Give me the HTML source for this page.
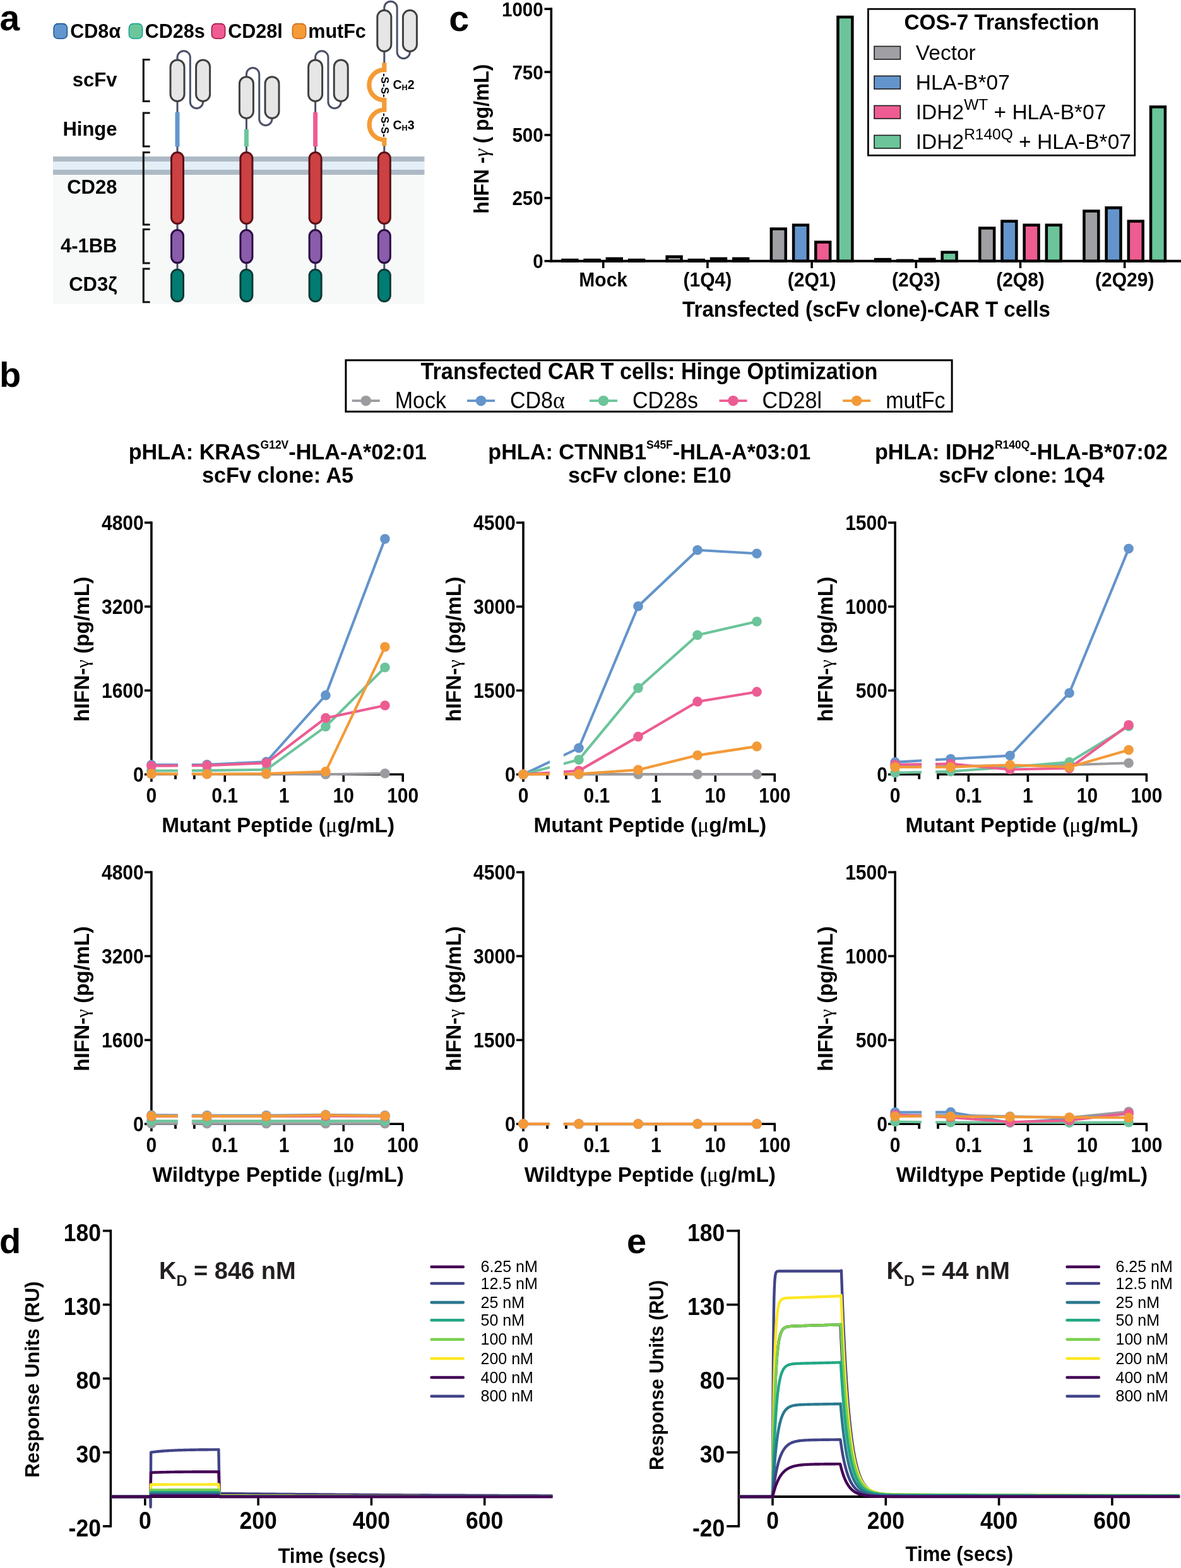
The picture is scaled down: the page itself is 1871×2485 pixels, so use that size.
<!DOCTYPE html>
<html><head><meta charset="utf-8"><title>Figure</title><style>html,body{margin:0;padding:0;background:#fff;}svg{display:block;}</style></head><body>
<svg width="1871" height="2485" viewBox="0 0 1871 2485">
<rect width="1871" height="2485" fill="#fff"/>
<g id="panel-a">
<rect x="84" y="248" width="588.4" height="234.3" fill="#F7F9F9"/>
<rect x="84" y="248" width="588.4" height="8" fill="#ADBAC5"/>
<rect x="84" y="256" width="588.4" height="13" fill="#E3EEF7"/>
<rect x="84" y="269" width="588.4" height="8" fill="#ADBAC5"/>
<text x="-0.5" y="48" font-family="'Liberation Sans', Arial, sans-serif" font-weight="bold" font-size="57">a</text>
<rect x="85.2" y="37.6" width="21.2" height="23.6" rx="6.5" fill="#6396CE" stroke="#1F5596" stroke-width="1.6"/>
<text x="111.3" y="59.6" font-family="'Liberation Sans', Arial, sans-serif" font-weight="bold" font-size="30.5">CD8<tspan font-size="31">α</tspan></text>
<rect x="204.4" y="37.6" width="21.2" height="23.6" rx="6.5" fill="#6CC59B" stroke="#17A394" stroke-width="1.6"/>
<text x="229.8" y="59.6" font-family="'Liberation Sans', Arial, sans-serif" font-weight="bold" font-size="30.5">CD28s</text>
<rect x="335.4" y="37.6" width="21.2" height="23.6" rx="6.5" fill="#EE5C93" stroke="#A0163F" stroke-width="1.6"/>
<text x="361.3" y="59.6" font-family="'Liberation Sans', Arial, sans-serif" font-weight="bold" font-size="30.5">CD28l</text>
<rect x="463.4" y="37.6" width="21.2" height="23.6" rx="6.5" fill="#F59C38" stroke="#CC6A1C" stroke-width="1.6"/>
<text x="488.3" y="59.6" font-family="'Liberation Sans', Arial, sans-serif" font-weight="bold" font-size="30.5">mutFc</text>
<text x="185.5" y="137.2" text-anchor="end" font-family="'Liberation Sans', Arial, sans-serif" font-weight="bold" font-size="31">scFv</text>
<text x="185.5" y="215.2" text-anchor="end" font-family="'Liberation Sans', Arial, sans-serif" font-weight="bold" font-size="31">Hinge</text>
<text x="185.5" y="307.2" text-anchor="end" font-family="'Liberation Sans', Arial, sans-serif" font-weight="bold" font-size="31">CD28</text>
<text x="185.5" y="400.2" text-anchor="end" font-family="'Liberation Sans', Arial, sans-serif" font-weight="bold" font-size="31">4-1BB</text>
<text x="185.5" y="461.2" text-anchor="end" font-family="'Liberation Sans', Arial, sans-serif" font-weight="bold" font-size="31">CD3ζ</text>
<path d="M237.6 94.5 H227.3 V160.5 H237.6" fill="none" stroke="#111" stroke-width="3.1"/>
<path d="M237.6 179 H227.3 V232 H237.6" fill="none" stroke="#111" stroke-width="3.1"/>
<path d="M237.6 241.5 H227.3 V356 H237.6" fill="none" stroke="#111" stroke-width="3.1"/>
<path d="M237.6 363.5 H227.3 V417 H237.6" fill="none" stroke="#111" stroke-width="3.1"/>
<path d="M237.6 426 H227.3 V478.8 H237.6" fill="none" stroke="#111" stroke-width="3.1"/>
<line x1="281.0" y1="160.0" x2="281.0" y2="242" stroke="#4B5068" stroke-width="3"/>
<path d="M281.0 96.4 V90.9 A10.15 10.15 0 0 1 301.3 90.9 V161.5 A10.15 10.15 0 0 0 321.6 161.5 V160.0" fill="none" stroke="#4B5068" stroke-width="3"/>
<rect x="270.0" y="94.9" width="22" height="65.6" rx="11" fill="#E6E6E6" stroke="#404040" stroke-width="3"/>
<rect x="310.6" y="94.9" width="22" height="65.6" rx="11" fill="#E6E6E6" stroke="#404040" stroke-width="3"/>
<rect x="277.5" y="178.0" width="7.0" height="54.400000000000006" fill="#6396CE"/>
<line x1="281.0" y1="354" x2="281.0" y2="430" stroke="#4B5068" stroke-width="3"/>
<rect x="271.5" y="241.5" width="19" height="113" rx="9.5" fill="#CC4143" stroke="#5A1016" stroke-width="3"/>
<rect x="271.5" y="364.6" width="19" height="52" rx="9.5" fill="#8A5DAB" stroke="#2C0C44" stroke-width="3"/>
<rect x="271.5" y="427.2" width="19" height="50.6" rx="9.5" fill="#017C72" stroke="#0D3A34" stroke-width="3"/>
<line x1="390.4" y1="187.0" x2="390.4" y2="242" stroke="#4B5068" stroke-width="3"/>
<path d="M390.4 123.2 V117.7 A10.15 10.15 0 0 1 410.7 117.7 V188.5 A10.15 10.15 0 0 0 431.0 188.5 V187.0" fill="none" stroke="#4B5068" stroke-width="3"/>
<rect x="379.4" y="121.7" width="22" height="65.8" rx="11" fill="#E6E6E6" stroke="#404040" stroke-width="3"/>
<rect x="420.0" y="121.7" width="22" height="65.8" rx="11" fill="#E6E6E6" stroke="#404040" stroke-width="3"/>
<rect x="386.9" y="205.0" width="7.0" height="27.400000000000006" fill="#6CC59B"/>
<line x1="390.4" y1="354" x2="390.4" y2="430" stroke="#4B5068" stroke-width="3"/>
<rect x="380.9" y="241.5" width="19" height="113" rx="9.5" fill="#CC4143" stroke="#5A1016" stroke-width="3"/>
<rect x="380.9" y="364.6" width="19" height="52" rx="9.5" fill="#8A5DAB" stroke="#2C0C44" stroke-width="3"/>
<rect x="380.9" y="427.2" width="19" height="50.6" rx="9.5" fill="#017C72" stroke="#0D3A34" stroke-width="3"/>
<line x1="499.6" y1="160.0" x2="499.6" y2="242" stroke="#4B5068" stroke-width="3"/>
<path d="M499.6 96.4 V90.9 A10.15 10.15 0 0 1 519.9 90.9 V161.5 A10.15 10.15 0 0 0 540.2 161.5 V160.0" fill="none" stroke="#4B5068" stroke-width="3"/>
<rect x="488.6" y="94.9" width="22" height="65.6" rx="11" fill="#E6E6E6" stroke="#404040" stroke-width="3"/>
<rect x="529.2" y="94.9" width="22" height="65.6" rx="11" fill="#E6E6E6" stroke="#404040" stroke-width="3"/>
<rect x="496.1" y="178.0" width="7.0" height="54.400000000000006" fill="#EE5C93"/>
<line x1="499.6" y1="354" x2="499.6" y2="430" stroke="#4B5068" stroke-width="3"/>
<rect x="490.1" y="241.5" width="19" height="113" rx="9.5" fill="#CC4143" stroke="#5A1016" stroke-width="3"/>
<rect x="490.1" y="364.6" width="19" height="52" rx="9.5" fill="#8A5DAB" stroke="#2C0C44" stroke-width="3"/>
<rect x="490.1" y="427.2" width="19" height="50.6" rx="9.5" fill="#017C72" stroke="#0D3A34" stroke-width="3"/>
<line x1="608.8" y1="81.0" x2="608.8" y2="101" stroke="#4B5068" stroke-width="3"/>
<line x1="608.8" y1="230" x2="608.8" y2="242" stroke="#4B5068" stroke-width="3"/>
<path d="M608.8 17.8 V12.3 A10.15 10.15 0 0 1 629.0999999999999 12.3 V82.5 A10.15 10.15 0 0 0 649.4 82.5 V81.0" fill="none" stroke="#4B5068" stroke-width="3"/>
<rect x="597.8" y="16.3" width="22" height="65.2" rx="11" fill="#E6E6E6" stroke="#404040" stroke-width="3"/>
<rect x="638.4" y="16.3" width="22" height="65.2" rx="11" fill="#E6E6E6" stroke="#404040" stroke-width="3"/>
<line x1="608.8" y1="354" x2="608.8" y2="430" stroke="#4B5068" stroke-width="3"/>
<rect x="599.3" y="241.5" width="19" height="113" rx="9.5" fill="#CC4143" stroke="#5A1016" stroke-width="3"/>
<rect x="599.3" y="364.6" width="19" height="52" rx="9.5" fill="#8A5DAB" stroke="#2C0C44" stroke-width="3"/>
<rect x="599.3" y="427.2" width="19" height="50.6" rx="9.5" fill="#017C72" stroke="#0D3A34" stroke-width="3"/>
<path d="M608.8 99.4 V110.7 A24 24 0 0 0 608.8 158.7 V174 A23.75 23.75 0 0 0 608.8 221.5 V231.3" fill="none" stroke="#F49B35" stroke-width="7.2"/>
<text transform="translate(610.0 135.2) rotate(90)" x="0" y="0" text-anchor="middle" dominant-baseline="central" font-family="'Liberation Sans', Arial, sans-serif" font-weight="bold" font-size="16.5">-S-S-</text>
<text transform="translate(610.0 198.2) rotate(90)" x="0" y="0" text-anchor="middle" dominant-baseline="central" font-family="'Liberation Sans', Arial, sans-serif" font-weight="bold" font-size="16.5">-S-S-</text>
<text x="622.5" y="141.0" font-family="'Liberation Sans', Arial, sans-serif" font-weight="bold" font-size="19.5">C<tspan font-size="12.5" dy="2">H</tspan><tspan dy="-2">2</tspan></text>
<text x="622.5" y="205.2" font-family="'Liberation Sans', Arial, sans-serif" font-weight="bold" font-size="19.5">C<tspan font-size="12.5" dy="2">H</tspan><tspan dy="-2">3</tspan></text>
</g>
<g id="panel-c">
<text x="711.2" y="49" font-family="'Liberation Sans', Arial, sans-serif" font-weight="bold" font-size="57.5">c</text>
<line x1="873.3" y1="12.2" x2="873.3" y2="415.7" stroke="#000" stroke-width="3.6"/>
<line x1="871.5" y1="413.7" x2="1871" y2="413.7" stroke="#000" stroke-width="4"/>
<line x1="862.5" y1="413.7" x2="873.3" y2="413.7" stroke="#000" stroke-width="3.6"/>
<text transform="translate(860.6 413.7) scale(1 1.09)" y="10.56" text-anchor="end" font-family="'Liberation Sans', Arial, sans-serif" font-weight="bold" font-size="29.5">0</text>
<line x1="862.5" y1="313.82" x2="873.3" y2="313.82" stroke="#000" stroke-width="3.6"/>
<text transform="translate(860.6 313.82) scale(1 1.09)" y="10.56" text-anchor="end" font-family="'Liberation Sans', Arial, sans-serif" font-weight="bold" font-size="29.5">250</text>
<line x1="862.5" y1="213.95" x2="873.3" y2="213.95" stroke="#000" stroke-width="3.6"/>
<text transform="translate(860.6 213.95) scale(1 1.09)" y="10.56" text-anchor="end" font-family="'Liberation Sans', Arial, sans-serif" font-weight="bold" font-size="29.5">500</text>
<line x1="862.5" y1="114.07" x2="873.3" y2="114.07" stroke="#000" stroke-width="3.6"/>
<text transform="translate(860.6 114.07) scale(1 1.09)" y="10.56" text-anchor="end" font-family="'Liberation Sans', Arial, sans-serif" font-weight="bold" font-size="29.5">750</text>
<line x1="862.5" y1="14.2" x2="873.3" y2="14.2" stroke="#000" stroke-width="3.6"/>
<text transform="translate(860.6 14.2) scale(1 1.09)" y="10.56" text-anchor="end" font-family="'Liberation Sans', Arial, sans-serif" font-weight="bold" font-size="29.5">1000</text>
<line x1="955.7" y1="413.7" x2="955.7" y2="425" stroke="#000" stroke-width="3.6"/>
<text transform="translate(955.7 454.2) scale(1 1.06)" text-anchor="middle" font-family="'Liberation Sans', Arial, sans-serif" font-weight="bold" font-size="30">Mock</text>
<rect x="891.45" y="412.1" width="22.9" height="1.6" fill="#A0A0A4" stroke="#000" stroke-width="4.5"/>
<rect x="926.65" y="412.1" width="22.9" height="1.6" fill="#6395CC" stroke="#000" stroke-width="4.5"/>
<rect x="961.85" y="409.9" width="22.9" height="3.8" fill="#EE5C91" stroke="#000" stroke-width="4.5"/>
<rect x="997.05" y="412.1" width="22.9" height="1.6" fill="#6CC59A" stroke="#000" stroke-width="4.5"/>
<line x1="1120.9" y1="413.7" x2="1120.9" y2="425" stroke="#000" stroke-width="3.6"/>
<text transform="translate(1120.9 454.2) scale(1 1.06)" text-anchor="middle" font-family="'Liberation Sans', Arial, sans-serif" font-weight="bold" font-size="30">(1Q4)</text>
<rect x="1056.65" y="406.8" width="22.9" height="6.9" fill="#A0A0A4" stroke="#000" stroke-width="4.5"/>
<rect x="1091.85" y="412.1" width="22.9" height="1.6" fill="#6395CC" stroke="#000" stroke-width="4.5"/>
<rect x="1127.05" y="409.9" width="22.9" height="3.8" fill="#EE5C91" stroke="#000" stroke-width="4.5"/>
<rect x="1162.25" y="409.9" width="22.9" height="3.8" fill="#6CC59A" stroke="#000" stroke-width="4.5"/>
<line x1="1286.1" y1="413.7" x2="1286.1" y2="425" stroke="#000" stroke-width="3.6"/>
<text transform="translate(1286.1 454.2) scale(1 1.06)" text-anchor="middle" font-family="'Liberation Sans', Arial, sans-serif" font-weight="bold" font-size="30">(2Q1)</text>
<rect x="1221.85" y="362.7" width="22.9" height="51" fill="#A0A0A4" stroke="#000" stroke-width="4.5"/>
<rect x="1257.05" y="356.7" width="22.9" height="57" fill="#6395CC" stroke="#000" stroke-width="4.5"/>
<rect x="1292.25" y="383.7" width="22.9" height="30" fill="#EE5C91" stroke="#000" stroke-width="4.5"/>
<rect x="1327.45" y="27" width="22.9" height="386.7" fill="#6CC59A" stroke="#000" stroke-width="4.5"/>
<line x1="1451.3" y1="413.7" x2="1451.3" y2="425" stroke="#000" stroke-width="3.6"/>
<text transform="translate(1451.3 454.2) scale(1 1.06)" text-anchor="middle" font-family="'Liberation Sans', Arial, sans-serif" font-weight="bold" font-size="30">(2Q3)</text>
<rect x="1387.05" y="411.1" width="22.9" height="2.6" fill="#A0A0A4" stroke="#000" stroke-width="4.5"/>
<rect x="1422.25" y="412.9" width="22.9" height="0.8" fill="#6395CC" stroke="#000" stroke-width="4.5"/>
<rect x="1457.45" y="410.9" width="22.9" height="2.8" fill="#EE5C91" stroke="#000" stroke-width="4.5"/>
<rect x="1492.65" y="399.8" width="22.9" height="13.9" fill="#6CC59A" stroke="#000" stroke-width="4.5"/>
<line x1="1616.5" y1="413.7" x2="1616.5" y2="425" stroke="#000" stroke-width="3.6"/>
<text transform="translate(1616.5 454.2) scale(1 1.06)" text-anchor="middle" font-family="'Liberation Sans', Arial, sans-serif" font-weight="bold" font-size="30">(2Q8)</text>
<rect x="1552.25" y="361.5" width="22.9" height="52.2" fill="#A0A0A4" stroke="#000" stroke-width="4.5"/>
<rect x="1587.45" y="350.6" width="22.9" height="63.1" fill="#6395CC" stroke="#000" stroke-width="4.5"/>
<rect x="1622.65" y="356.7" width="22.9" height="57" fill="#EE5C91" stroke="#000" stroke-width="4.5"/>
<rect x="1657.85" y="356.7" width="22.9" height="57" fill="#6CC59A" stroke="#000" stroke-width="4.5"/>
<line x1="1781.7" y1="413.7" x2="1781.7" y2="425" stroke="#000" stroke-width="3.6"/>
<text transform="translate(1781.7 454.2) scale(1 1.06)" text-anchor="middle" font-family="'Liberation Sans', Arial, sans-serif" font-weight="bold" font-size="30">(2Q29)</text>
<rect x="1717.45" y="334.5" width="22.9" height="79.2" fill="#A0A0A4" stroke="#000" stroke-width="4.5"/>
<rect x="1752.65" y="329.3" width="22.9" height="84.4" fill="#6395CC" stroke="#000" stroke-width="4.5"/>
<rect x="1787.85" y="350.6" width="22.9" height="63.1" fill="#EE5C91" stroke="#000" stroke-width="4.5"/>
<rect x="1823.05" y="169.4" width="22.9" height="244.3" fill="#6CC59A" stroke="#000" stroke-width="4.5"/>
<text transform="translate(1372.5 501.5) scale(1 1.04)" text-anchor="middle" font-family="'Liberation Sans', Arial, sans-serif" font-weight="bold" font-size="33.1">Transfected (scFv clone)-CAR T cells</text>
<text transform="translate(774.2 220.2) rotate(-90)" text-anchor="middle" font-family="'Liberation Sans', Arial, sans-serif" font-weight="bold" font-size="33" textLength="237" lengthAdjust="spacingAndGlyphs">hIFN -<tspan font-family="'Liberation Serif', 'Times New Roman', serif" font-weight="normal" font-style="italic">γ</tspan> ( pg/mL)</text>
<rect x="1375.4" y="14.3" width="422.4" height="232" fill="#fff" stroke="#000" stroke-width="2.7"/>
<text transform="translate(1587 47) scale(1 1.05)" text-anchor="middle" font-family="'Liberation Sans', Arial, sans-serif" font-weight="bold" font-size="33.3">COS-7 Transfection</text>
<rect x="1385" y="73.4" width="41.4" height="20.6" fill="#A0A0A4" stroke="#1a1a1a" stroke-width="1.6"/>
<text x="1450.8" y="95" font-family="'Liberation Sans', Arial, sans-serif" font-size="33.5">Vector</text>
<rect x="1385" y="120.4" width="41.4" height="20.6" fill="#6395CC" stroke="#1a1a1a" stroke-width="1.6"/>
<text x="1450.8" y="142" font-family="'Liberation Sans', Arial, sans-serif" font-size="33.5">HLA-B*07</text>
<rect x="1385" y="167.4" width="41.4" height="20.6" fill="#EE5C91" stroke="#1a1a1a" stroke-width="1.6"/>
<text x="1450.8" y="189" font-family="'Liberation Sans', Arial, sans-serif" font-size="33.5">IDH2<tspan font-size="24.5" dy="-15.5">WT</tspan><tspan dy="15.5"> + HLA-B*07</tspan></text>
<rect x="1385" y="214.4" width="41.4" height="20.6" fill="#6CC59A" stroke="#1a1a1a" stroke-width="1.6"/>
<text x="1450.8" y="236" font-family="'Liberation Sans', Arial, sans-serif" font-size="33.5">IDH2<tspan font-size="24.5" dy="-15.5">R140Q</tspan><tspan dy="15.5"> + HLA-B*07</tspan></text>
</g>
<g id="panel-b">
<text x="-1" y="612.8" font-family="'Liberation Sans', Arial, sans-serif" font-weight="bold" font-size="56">b</text>
<rect x="547.9" y="570.9" width="960.2" height="81.4" fill="#fff" stroke="#000" stroke-width="3"/>
<text transform="translate(1028.5 601.2) scale(1 1.06)" text-anchor="middle" font-family="'Liberation Sans', Arial, sans-serif" font-weight="bold" font-size="34.2">Transfected CAR T cells: Hinge Optimization</text>
<line x1="557.7" y1="635.2" x2="601.7" y2="635.2" stroke="#9C9CA0" stroke-width="3.7"/>
<circle cx="579.7" cy="635.2" r="8.3" fill="#9C9CA0"/>
<text transform="translate(625.7 646.8) scale(1 1.08)" font-family="'Liberation Sans', Arial, sans-serif" font-size="34">Mock</text>
<line x1="740.0" y1="635.2" x2="784.0" y2="635.2" stroke="#6394CB" stroke-width="3.7"/>
<circle cx="762.0" cy="635.2" r="8.3" fill="#6394CB"/>
<text transform="translate(808 646.8) scale(1 1.08)" font-family="'Liberation Sans', Arial, sans-serif" font-size="34">CD8<tspan font-family="'Liberation Serif', 'Times New Roman', serif" font-size="36">α</tspan></text>
<line x1="934.0" y1="635.2" x2="978.0" y2="635.2" stroke="#6CC49A" stroke-width="3.7"/>
<circle cx="956.0" cy="635.2" r="8.3" fill="#6CC49A"/>
<text transform="translate(1002 646.8) scale(1 1.08)" font-family="'Liberation Sans', Arial, sans-serif" font-size="34">CD28s</text>
<line x1="1139.5" y1="635.2" x2="1183.5" y2="635.2" stroke="#EC5C92" stroke-width="3.7"/>
<circle cx="1161.5" cy="635.2" r="8.3" fill="#EC5C92"/>
<text transform="translate(1207.5 646.8) scale(1 1.08)" font-family="'Liberation Sans', Arial, sans-serif" font-size="34">CD28l</text>
<line x1="1335.2" y1="635.2" x2="1379.2" y2="635.2" stroke="#F39A37" stroke-width="3.7"/>
<circle cx="1357.2" cy="635.2" r="8.3" fill="#F39A37"/>
<text transform="translate(1403.2 646.8) scale(1 1.08)" font-family="'Liberation Sans', Arial, sans-serif" font-size="34">mutFc</text>
<clipPath id="clip00"><rect x="219.9" y="808.3" width="62" height="460"/><rect x="303.8" y="808.3" width="400" height="460"/></clipPath>
<line x1="239.9" y1="826.5" x2="239.9" y2="1239" stroke="#000" stroke-width="3.6"/>
<line x1="228.9" y1="1227.3" x2="239.9" y2="1227.3" stroke="#000" stroke-width="3.6"/>
<text transform="translate(227.7 1227.6) scale(1 1.08)" y="10.74" text-anchor="end" font-family="'Liberation Sans', Arial, sans-serif" font-weight="bold" font-size="30">0</text>
<line x1="228.9" y1="1094.3" x2="239.9" y2="1094.3" stroke="#000" stroke-width="3.6"/>
<text transform="translate(227.7 1094.6) scale(1 1.08)" y="10.74" text-anchor="end" font-family="'Liberation Sans', Arial, sans-serif" font-weight="bold" font-size="30">1600</text>
<line x1="228.9" y1="961.3" x2="239.9" y2="961.3" stroke="#000" stroke-width="3.6"/>
<text transform="translate(227.7 961.6) scale(1 1.08)" y="10.74" text-anchor="end" font-family="'Liberation Sans', Arial, sans-serif" font-weight="bold" font-size="30">3200</text>
<line x1="228.9" y1="828.3" x2="239.9" y2="828.3" stroke="#000" stroke-width="3.6"/>
<text transform="translate(227.7 828.6) scale(1 1.08)" y="10.74" text-anchor="end" font-family="'Liberation Sans', Arial, sans-serif" font-weight="bold" font-size="30">4800</text>
<line x1="238.1" y1="1227.3" x2="279.9" y2="1227.3" stroke="#000" stroke-width="3.6"/>
<line x1="305.9" y1="1227.3" x2="639.8" y2="1227.3" stroke="#000" stroke-width="3.6"/>
<line x1="278" y1="1227.3" x2="278" y2="1234.9" stroke="#000" stroke-width="3.8"/>
<line x1="307.8" y1="1227.3" x2="307.8" y2="1234.9" stroke="#000" stroke-width="3.8"/>
<line x1="356.2" y1="1227.3" x2="356.2" y2="1239" stroke="#000" stroke-width="3.6"/>
<line x1="450.2" y1="1227.3" x2="450.2" y2="1239" stroke="#000" stroke-width="3.6"/>
<line x1="544.2" y1="1227.3" x2="544.2" y2="1239" stroke="#000" stroke-width="3.6"/>
<line x1="638.2" y1="1227.3" x2="638.2" y2="1239" stroke="#000" stroke-width="3.6"/>
<text transform="translate(239.9 1260) scale(1 1.1)" y="10.74" text-anchor="middle" font-family="'Liberation Sans', Arial, sans-serif" font-weight="bold" font-size="30">0</text>
<text transform="translate(356.2 1260) scale(1 1.1)" y="10.74" text-anchor="middle" font-family="'Liberation Sans', Arial, sans-serif" font-weight="bold" font-size="30">0.1</text>
<text transform="translate(450.2 1260) scale(1 1.1)" y="10.74" text-anchor="middle" font-family="'Liberation Sans', Arial, sans-serif" font-weight="bold" font-size="30">1</text>
<text transform="translate(544.2 1260) scale(1 1.1)" y="10.74" text-anchor="middle" font-family="'Liberation Sans', Arial, sans-serif" font-weight="bold" font-size="30">10</text>
<text transform="translate(638.2 1260) scale(1 1.1)" y="10.74" text-anchor="middle" font-family="'Liberation Sans', Arial, sans-serif" font-weight="bold" font-size="30">100</text>
<text transform="translate(141.1 1028.8) rotate(-90)" text-anchor="middle" font-family="'Liberation Sans', Arial, sans-serif" font-weight="bold" font-size="32.5" textLength="230" lengthAdjust="spacingAndGlyphs">hIFN-<tspan font-family="'Liberation Serif', 'Times New Roman', serif" font-weight="normal" font-size="30">γ</tspan>  (pg/mL)</text>
<text x="440.7" y="1319.3" text-anchor="middle" font-family="'Liberation Sans', Arial, sans-serif" font-weight="bold" font-size="33.4">Mutant Peptide (<tspan font-family="'Liberation Serif', 'Times New Roman', serif" font-weight="normal" font-size="34">μ</tspan>g/mL)</text>
<text x="439.7" y="727.6" text-anchor="middle" font-family="'Liberation Sans', Arial, sans-serif" font-weight="bold" font-size="34.2">pHLA: KRAS<tspan font-size="17.5" dy="-17">G12V</tspan><tspan dy="17">-HLA-A*02:01</tspan></text>
<text x="440.1" y="764.7" text-anchor="middle" font-family="'Liberation Sans', Arial, sans-serif" font-weight="bold" font-size="34.2">scFv clone: A5</text>
<polyline points="239.9,1226.8 327.9,1226.8 421.9,1226.8 515.9,1227.3 609.9,1225.8" fill="none" stroke="#9C9CA0" stroke-width="4.1" stroke-linejoin="round" clip-path="url(#clip00)"/>
<circle cx="239.9" cy="1226.8" r="7.8" fill="#9C9CA0"/>
<circle cx="327.9" cy="1226.8" r="7.8" fill="#9C9CA0"/>
<circle cx="421.9" cy="1226.8" r="7.8" fill="#9C9CA0"/>
<circle cx="515.9" cy="1227.3" r="7.8" fill="#9C9CA0"/>
<circle cx="609.9" cy="1225.8" r="7.8" fill="#9C9CA0"/>
<polyline points="239.9,1212.1 327.9,1211.8 421.9,1207.3 515.9,1101.9 609.9,854.1" fill="none" stroke="#6394CB" stroke-width="4.1" stroke-linejoin="round" clip-path="url(#clip00)"/>
<circle cx="239.9" cy="1212.1" r="7.8" fill="#6394CB"/>
<circle cx="327.9" cy="1211.8" r="7.8" fill="#6394CB"/>
<circle cx="421.9" cy="1207.3" r="7.8" fill="#6394CB"/>
<circle cx="515.9" cy="1101.9" r="7.8" fill="#6394CB"/>
<circle cx="609.9" cy="854.1" r="7.8" fill="#6394CB"/>
<polyline points="239.9,1221.6 327.9,1221.1 421.9,1219.8 515.9,1151.5 609.9,1057.8" fill="none" stroke="#6CC49A" stroke-width="4.1" stroke-linejoin="round" clip-path="url(#clip00)"/>
<circle cx="239.9" cy="1221.6" r="7.8" fill="#6CC49A"/>
<circle cx="327.9" cy="1221.1" r="7.8" fill="#6CC49A"/>
<circle cx="421.9" cy="1219.8" r="7.8" fill="#6CC49A"/>
<circle cx="515.9" cy="1151.5" r="7.8" fill="#6CC49A"/>
<circle cx="609.9" cy="1057.8" r="7.8" fill="#6CC49A"/>
<polyline points="239.9,1213.7 327.9,1213.1 421.9,1209.3 515.9,1137.9 609.9,1118" fill="none" stroke="#EC5C92" stroke-width="4.1" stroke-linejoin="round" clip-path="url(#clip00)"/>
<circle cx="239.9" cy="1213.7" r="7.8" fill="#EC5C92"/>
<circle cx="327.9" cy="1213.1" r="7.8" fill="#EC5C92"/>
<circle cx="421.9" cy="1209.3" r="7.8" fill="#EC5C92"/>
<circle cx="515.9" cy="1137.9" r="7.8" fill="#EC5C92"/>
<circle cx="609.9" cy="1118" r="7.8" fill="#EC5C92"/>
<polyline points="239.9,1226.3 327.9,1226.7 421.9,1226.1 515.9,1222.8 609.9,1025.3" fill="none" stroke="#F39A37" stroke-width="4.1" stroke-linejoin="round" clip-path="url(#clip00)"/>
<circle cx="239.9" cy="1226.3" r="7.8" fill="#F39A37"/>
<circle cx="327.9" cy="1226.7" r="7.8" fill="#F39A37"/>
<circle cx="421.9" cy="1226.1" r="7.8" fill="#F39A37"/>
<circle cx="515.9" cy="1222.8" r="7.8" fill="#F39A37"/>
<circle cx="609.9" cy="1025.3" r="7.8" fill="#F39A37"/>
<clipPath id="clip01"><rect x="219.9" y="1362.3" width="62" height="460"/><rect x="303.8" y="1362.3" width="400" height="460"/></clipPath>
<line x1="239.9" y1="1380.5" x2="239.9" y2="1793" stroke="#000" stroke-width="3.6"/>
<line x1="228.9" y1="1781.3" x2="239.9" y2="1781.3" stroke="#000" stroke-width="3.6"/>
<text transform="translate(227.7 1781.6) scale(1 1.08)" y="10.74" text-anchor="end" font-family="'Liberation Sans', Arial, sans-serif" font-weight="bold" font-size="30">0</text>
<line x1="228.9" y1="1648.3" x2="239.9" y2="1648.3" stroke="#000" stroke-width="3.6"/>
<text transform="translate(227.7 1648.6) scale(1 1.08)" y="10.74" text-anchor="end" font-family="'Liberation Sans', Arial, sans-serif" font-weight="bold" font-size="30">1600</text>
<line x1="228.9" y1="1515.3" x2="239.9" y2="1515.3" stroke="#000" stroke-width="3.6"/>
<text transform="translate(227.7 1515.6) scale(1 1.08)" y="10.74" text-anchor="end" font-family="'Liberation Sans', Arial, sans-serif" font-weight="bold" font-size="30">3200</text>
<line x1="228.9" y1="1382.3" x2="239.9" y2="1382.3" stroke="#000" stroke-width="3.6"/>
<text transform="translate(227.7 1382.6) scale(1 1.08)" y="10.74" text-anchor="end" font-family="'Liberation Sans', Arial, sans-serif" font-weight="bold" font-size="30">4800</text>
<line x1="238.1" y1="1781.3" x2="279.9" y2="1781.3" stroke="#000" stroke-width="3.6"/>
<line x1="305.9" y1="1781.3" x2="639.8" y2="1781.3" stroke="#000" stroke-width="3.6"/>
<line x1="278" y1="1781.3" x2="278" y2="1788.9" stroke="#000" stroke-width="3.8"/>
<line x1="307.8" y1="1781.3" x2="307.8" y2="1788.9" stroke="#000" stroke-width="3.8"/>
<line x1="356.2" y1="1781.3" x2="356.2" y2="1793" stroke="#000" stroke-width="3.6"/>
<line x1="450.2" y1="1781.3" x2="450.2" y2="1793" stroke="#000" stroke-width="3.6"/>
<line x1="544.2" y1="1781.3" x2="544.2" y2="1793" stroke="#000" stroke-width="3.6"/>
<line x1="638.2" y1="1781.3" x2="638.2" y2="1793" stroke="#000" stroke-width="3.6"/>
<text transform="translate(239.9 1814) scale(1 1.1)" y="10.74" text-anchor="middle" font-family="'Liberation Sans', Arial, sans-serif" font-weight="bold" font-size="30">0</text>
<text transform="translate(356.2 1814) scale(1 1.1)" y="10.74" text-anchor="middle" font-family="'Liberation Sans', Arial, sans-serif" font-weight="bold" font-size="30">0.1</text>
<text transform="translate(450.2 1814) scale(1 1.1)" y="10.74" text-anchor="middle" font-family="'Liberation Sans', Arial, sans-serif" font-weight="bold" font-size="30">1</text>
<text transform="translate(544.2 1814) scale(1 1.1)" y="10.74" text-anchor="middle" font-family="'Liberation Sans', Arial, sans-serif" font-weight="bold" font-size="30">10</text>
<text transform="translate(638.2 1814) scale(1 1.1)" y="10.74" text-anchor="middle" font-family="'Liberation Sans', Arial, sans-serif" font-weight="bold" font-size="30">100</text>
<text transform="translate(141.1 1582.8) rotate(-90)" text-anchor="middle" font-family="'Liberation Sans', Arial, sans-serif" font-weight="bold" font-size="32.5" textLength="230" lengthAdjust="spacingAndGlyphs">hIFN-<tspan font-family="'Liberation Serif', 'Times New Roman', serif" font-weight="normal" font-size="30">γ</tspan>  (pg/mL)</text>
<text x="440.7" y="1873.3" text-anchor="middle" font-family="'Liberation Sans', Arial, sans-serif" font-weight="bold" font-size="33.4">Wildtype Peptide (<tspan font-family="'Liberation Serif', 'Times New Roman', serif" font-weight="normal" font-size="34">μ</tspan>g/mL)</text>
<polyline points="239.9,1780.8 327.9,1780.8 421.9,1780.8 515.9,1780.8 609.9,1780.8" fill="none" stroke="#9C9CA0" stroke-width="4.1" stroke-linejoin="round" clip-path="url(#clip01)"/>
<circle cx="239.9" cy="1780.8" r="7.8" fill="#9C9CA0"/>
<circle cx="327.9" cy="1780.8" r="7.8" fill="#9C9CA0"/>
<circle cx="421.9" cy="1780.8" r="7.8" fill="#9C9CA0"/>
<circle cx="515.9" cy="1780.8" r="7.8" fill="#9C9CA0"/>
<circle cx="609.9" cy="1780.8" r="7.8" fill="#9C9CA0"/>
<polyline points="239.9,1767.3 327.9,1767.8 421.9,1767.8 515.9,1766.8 609.9,1767.8" fill="none" stroke="#6394CB" stroke-width="4.1" stroke-linejoin="round" clip-path="url(#clip01)"/>
<circle cx="239.9" cy="1767.3" r="7.8" fill="#6394CB"/>
<circle cx="327.9" cy="1767.8" r="7.8" fill="#6394CB"/>
<circle cx="421.9" cy="1767.8" r="7.8" fill="#6394CB"/>
<circle cx="515.9" cy="1766.8" r="7.8" fill="#6394CB"/>
<circle cx="609.9" cy="1767.8" r="7.8" fill="#6394CB"/>
<polyline points="239.9,1776.6 327.9,1776.6 421.9,1776.6 515.9,1776.6 609.9,1776.6" fill="none" stroke="#6CC49A" stroke-width="4.1" stroke-linejoin="round" clip-path="url(#clip01)"/>
<circle cx="239.9" cy="1776.6" r="7.8" fill="#6CC49A"/>
<circle cx="327.9" cy="1776.6" r="7.8" fill="#6CC49A"/>
<circle cx="421.9" cy="1776.6" r="7.8" fill="#6CC49A"/>
<circle cx="515.9" cy="1776.6" r="7.8" fill="#6CC49A"/>
<circle cx="609.9" cy="1776.6" r="7.8" fill="#6CC49A"/>
<polyline points="239.9,1769.3 327.9,1769.3 421.9,1769.3 515.9,1768.8 609.9,1769.3" fill="none" stroke="#EC5C92" stroke-width="4.1" stroke-linejoin="round" clip-path="url(#clip01)"/>
<circle cx="239.9" cy="1769.3" r="7.8" fill="#EC5C92"/>
<circle cx="327.9" cy="1769.3" r="7.8" fill="#EC5C92"/>
<circle cx="421.9" cy="1769.3" r="7.8" fill="#EC5C92"/>
<circle cx="515.9" cy="1768.8" r="7.8" fill="#EC5C92"/>
<circle cx="609.9" cy="1769.3" r="7.8" fill="#EC5C92"/>
<polyline points="239.9,1768.6 327.9,1768.9 421.9,1768.9 515.9,1767.3 609.9,1768.6" fill="none" stroke="#F39A37" stroke-width="4.1" stroke-linejoin="round" clip-path="url(#clip01)"/>
<circle cx="239.9" cy="1768.6" r="7.8" fill="#F39A37"/>
<circle cx="327.9" cy="1768.9" r="7.8" fill="#F39A37"/>
<circle cx="421.9" cy="1768.9" r="7.8" fill="#F39A37"/>
<circle cx="515.9" cy="1767.3" r="7.8" fill="#F39A37"/>
<circle cx="609.9" cy="1768.6" r="7.8" fill="#F39A37"/>
<clipPath id="clip10"><rect x="809.0" y="808.3" width="62" height="460"/><rect x="892.9" y="808.3" width="400" height="460"/></clipPath>
<line x1="829" y1="826.5" x2="829" y2="1239" stroke="#000" stroke-width="3.6"/>
<line x1="818" y1="1227.3" x2="829" y2="1227.3" stroke="#000" stroke-width="3.6"/>
<text transform="translate(816.8 1227.6) scale(1 1.08)" y="10.74" text-anchor="end" font-family="'Liberation Sans', Arial, sans-serif" font-weight="bold" font-size="30">0</text>
<line x1="818" y1="1094.3" x2="829" y2="1094.3" stroke="#000" stroke-width="3.6"/>
<text transform="translate(816.8 1094.6) scale(1 1.08)" y="10.74" text-anchor="end" font-family="'Liberation Sans', Arial, sans-serif" font-weight="bold" font-size="30">1500</text>
<line x1="818" y1="961.3" x2="829" y2="961.3" stroke="#000" stroke-width="3.6"/>
<text transform="translate(816.8 961.6) scale(1 1.08)" y="10.74" text-anchor="end" font-family="'Liberation Sans', Arial, sans-serif" font-weight="bold" font-size="30">3000</text>
<line x1="818" y1="828.3" x2="829" y2="828.3" stroke="#000" stroke-width="3.6"/>
<text transform="translate(816.8 828.6) scale(1 1.08)" y="10.74" text-anchor="end" font-family="'Liberation Sans', Arial, sans-serif" font-weight="bold" font-size="30">4500</text>
<line x1="827.2" y1="1227.3" x2="869" y2="1227.3" stroke="#000" stroke-width="3.6"/>
<line x1="895" y1="1227.3" x2="1228.9" y2="1227.3" stroke="#000" stroke-width="3.6"/>
<line x1="867.1" y1="1227.3" x2="867.1" y2="1234.9" stroke="#000" stroke-width="3.8"/>
<line x1="896.9" y1="1227.3" x2="896.9" y2="1234.9" stroke="#000" stroke-width="3.8"/>
<line x1="945.3" y1="1227.3" x2="945.3" y2="1239" stroke="#000" stroke-width="3.6"/>
<line x1="1039.3" y1="1227.3" x2="1039.3" y2="1239" stroke="#000" stroke-width="3.6"/>
<line x1="1133.3" y1="1227.3" x2="1133.3" y2="1239" stroke="#000" stroke-width="3.6"/>
<line x1="1227.3" y1="1227.3" x2="1227.3" y2="1239" stroke="#000" stroke-width="3.6"/>
<text transform="translate(829 1260) scale(1 1.1)" y="10.74" text-anchor="middle" font-family="'Liberation Sans', Arial, sans-serif" font-weight="bold" font-size="30">0</text>
<text transform="translate(945.3 1260) scale(1 1.1)" y="10.74" text-anchor="middle" font-family="'Liberation Sans', Arial, sans-serif" font-weight="bold" font-size="30">0.1</text>
<text transform="translate(1039.3 1260) scale(1 1.1)" y="10.74" text-anchor="middle" font-family="'Liberation Sans', Arial, sans-serif" font-weight="bold" font-size="30">1</text>
<text transform="translate(1133.3 1260) scale(1 1.1)" y="10.74" text-anchor="middle" font-family="'Liberation Sans', Arial, sans-serif" font-weight="bold" font-size="30">10</text>
<text transform="translate(1227.3 1260) scale(1 1.1)" y="10.74" text-anchor="middle" font-family="'Liberation Sans', Arial, sans-serif" font-weight="bold" font-size="30">100</text>
<text transform="translate(730.2 1028.8) rotate(-90)" text-anchor="middle" font-family="'Liberation Sans', Arial, sans-serif" font-weight="bold" font-size="32.5" textLength="230" lengthAdjust="spacingAndGlyphs">hIFN-<tspan font-family="'Liberation Serif', 'Times New Roman', serif" font-weight="normal" font-size="30">γ</tspan>  (pg/mL)</text>
<text x="1029.8" y="1319.3" text-anchor="middle" font-family="'Liberation Sans', Arial, sans-serif" font-weight="bold" font-size="33.4">Mutant Peptide (<tspan font-family="'Liberation Serif', 'Times New Roman', serif" font-weight="normal" font-size="34">μ</tspan>g/mL)</text>
<text x="1028.8" y="727.6" text-anchor="middle" font-family="'Liberation Sans', Arial, sans-serif" font-weight="bold" font-size="34.2">pHLA: CTNNB1<tspan font-size="17.5" dy="-17">S45F</tspan><tspan dy="17">-HLA-A*03:01</tspan></text>
<text x="1029.2" y="764.7" text-anchor="middle" font-family="'Liberation Sans', Arial, sans-serif" font-weight="bold" font-size="34.2">scFv clone: E10</text>
<polyline points="829,1227.3 917,1227.3 1011,1227.3 1105,1227.3 1199,1227.3" fill="none" stroke="#9C9CA0" stroke-width="4.1" stroke-linejoin="round" clip-path="url(#clip10)"/>
<circle cx="829" cy="1227.3" r="7.8" fill="#9C9CA0"/>
<circle cx="917" cy="1227.3" r="7.8" fill="#9C9CA0"/>
<circle cx="1011" cy="1227.3" r="7.8" fill="#9C9CA0"/>
<circle cx="1105" cy="1227.3" r="7.8" fill="#9C9CA0"/>
<circle cx="1199" cy="1227.3" r="7.8" fill="#9C9CA0"/>
<polyline points="829,1227.3 917,1185.5 1011,960.8 1105,871.7 1199,877.3" fill="none" stroke="#6394CB" stroke-width="4.1" stroke-linejoin="round" clip-path="url(#clip10)"/>
<circle cx="829" cy="1227.3" r="7.8" fill="#6394CB"/>
<circle cx="917" cy="1185.5" r="7.8" fill="#6394CB"/>
<circle cx="1011" cy="960.8" r="7.8" fill="#6394CB"/>
<circle cx="1105" cy="871.7" r="7.8" fill="#6394CB"/>
<circle cx="1199" cy="877.3" r="7.8" fill="#6394CB"/>
<polyline points="829,1227.3 917,1204.1 1011,1090.4 1105,1006.5 1199,985" fill="none" stroke="#6CC49A" stroke-width="4.1" stroke-linejoin="round" clip-path="url(#clip10)"/>
<circle cx="829" cy="1227.3" r="7.8" fill="#6CC49A"/>
<circle cx="917" cy="1204.1" r="7.8" fill="#6CC49A"/>
<circle cx="1011" cy="1090.4" r="7.8" fill="#6CC49A"/>
<circle cx="1105" cy="1006.5" r="7.8" fill="#6CC49A"/>
<circle cx="1199" cy="985" r="7.8" fill="#6CC49A"/>
<polyline points="829,1227.3 917,1221.6 1011,1167.4 1105,1111.9 1199,1096.4" fill="none" stroke="#EC5C92" stroke-width="4.1" stroke-linejoin="round" clip-path="url(#clip10)"/>
<circle cx="829" cy="1227.3" r="7.8" fill="#EC5C92"/>
<circle cx="917" cy="1221.6" r="7.8" fill="#EC5C92"/>
<circle cx="1011" cy="1167.4" r="7.8" fill="#EC5C92"/>
<circle cx="1105" cy="1111.9" r="7.8" fill="#EC5C92"/>
<circle cx="1199" cy="1096.4" r="7.8" fill="#EC5C92"/>
<polyline points="829,1227.3 917,1226.5 1011,1220.1 1105,1197.1 1199,1182.9" fill="none" stroke="#F39A37" stroke-width="4.1" stroke-linejoin="round" clip-path="url(#clip10)"/>
<circle cx="829" cy="1227.3" r="7.8" fill="#F39A37"/>
<circle cx="917" cy="1226.5" r="7.8" fill="#F39A37"/>
<circle cx="1011" cy="1220.1" r="7.8" fill="#F39A37"/>
<circle cx="1105" cy="1197.1" r="7.8" fill="#F39A37"/>
<circle cx="1199" cy="1182.9" r="7.8" fill="#F39A37"/>
<clipPath id="clip11"><rect x="809.0" y="1362.3" width="62" height="460"/><rect x="892.9" y="1362.3" width="400" height="460"/></clipPath>
<line x1="829" y1="1380.5" x2="829" y2="1793" stroke="#000" stroke-width="3.6"/>
<line x1="818" y1="1781.3" x2="829" y2="1781.3" stroke="#000" stroke-width="3.6"/>
<text transform="translate(816.8 1781.6) scale(1 1.08)" y="10.74" text-anchor="end" font-family="'Liberation Sans', Arial, sans-serif" font-weight="bold" font-size="30">0</text>
<line x1="818" y1="1648.3" x2="829" y2="1648.3" stroke="#000" stroke-width="3.6"/>
<text transform="translate(816.8 1648.6) scale(1 1.08)" y="10.74" text-anchor="end" font-family="'Liberation Sans', Arial, sans-serif" font-weight="bold" font-size="30">1500</text>
<line x1="818" y1="1515.3" x2="829" y2="1515.3" stroke="#000" stroke-width="3.6"/>
<text transform="translate(816.8 1515.6) scale(1 1.08)" y="10.74" text-anchor="end" font-family="'Liberation Sans', Arial, sans-serif" font-weight="bold" font-size="30">3000</text>
<line x1="818" y1="1382.3" x2="829" y2="1382.3" stroke="#000" stroke-width="3.6"/>
<text transform="translate(816.8 1382.6) scale(1 1.08)" y="10.74" text-anchor="end" font-family="'Liberation Sans', Arial, sans-serif" font-weight="bold" font-size="30">4500</text>
<line x1="827.2" y1="1781.3" x2="869" y2="1781.3" stroke="#000" stroke-width="3.6"/>
<line x1="895" y1="1781.3" x2="1228.9" y2="1781.3" stroke="#000" stroke-width="3.6"/>
<line x1="867.1" y1="1781.3" x2="867.1" y2="1788.9" stroke="#000" stroke-width="3.8"/>
<line x1="896.9" y1="1781.3" x2="896.9" y2="1788.9" stroke="#000" stroke-width="3.8"/>
<line x1="945.3" y1="1781.3" x2="945.3" y2="1793" stroke="#000" stroke-width="3.6"/>
<line x1="1039.3" y1="1781.3" x2="1039.3" y2="1793" stroke="#000" stroke-width="3.6"/>
<line x1="1133.3" y1="1781.3" x2="1133.3" y2="1793" stroke="#000" stroke-width="3.6"/>
<line x1="1227.3" y1="1781.3" x2="1227.3" y2="1793" stroke="#000" stroke-width="3.6"/>
<text transform="translate(829 1814) scale(1 1.1)" y="10.74" text-anchor="middle" font-family="'Liberation Sans', Arial, sans-serif" font-weight="bold" font-size="30">0</text>
<text transform="translate(945.3 1814) scale(1 1.1)" y="10.74" text-anchor="middle" font-family="'Liberation Sans', Arial, sans-serif" font-weight="bold" font-size="30">0.1</text>
<text transform="translate(1039.3 1814) scale(1 1.1)" y="10.74" text-anchor="middle" font-family="'Liberation Sans', Arial, sans-serif" font-weight="bold" font-size="30">1</text>
<text transform="translate(1133.3 1814) scale(1 1.1)" y="10.74" text-anchor="middle" font-family="'Liberation Sans', Arial, sans-serif" font-weight="bold" font-size="30">10</text>
<text transform="translate(1227.3 1814) scale(1 1.1)" y="10.74" text-anchor="middle" font-family="'Liberation Sans', Arial, sans-serif" font-weight="bold" font-size="30">100</text>
<text transform="translate(730.2 1582.8) rotate(-90)" text-anchor="middle" font-family="'Liberation Sans', Arial, sans-serif" font-weight="bold" font-size="32.5" textLength="230" lengthAdjust="spacingAndGlyphs">hIFN-<tspan font-family="'Liberation Serif', 'Times New Roman', serif" font-weight="normal" font-size="30">γ</tspan>  (pg/mL)</text>
<text x="1029.8" y="1873.3" text-anchor="middle" font-family="'Liberation Sans', Arial, sans-serif" font-weight="bold" font-size="33.4">Wildtype Peptide (<tspan font-family="'Liberation Serif', 'Times New Roman', serif" font-weight="normal" font-size="34">μ</tspan>g/mL)</text>
<polyline points="829,1781.3 917,1781.3 1011,1781.3 1105,1781.3 1199,1781.3" fill="none" stroke="#9C9CA0" stroke-width="4.1" stroke-linejoin="round" clip-path="url(#clip11)"/>
<circle cx="829" cy="1781.3" r="7.8" fill="#9C9CA0"/>
<circle cx="917" cy="1781.3" r="7.8" fill="#9C9CA0"/>
<circle cx="1011" cy="1781.3" r="7.8" fill="#9C9CA0"/>
<circle cx="1105" cy="1781.3" r="7.8" fill="#9C9CA0"/>
<circle cx="1199" cy="1781.3" r="7.8" fill="#9C9CA0"/>
<polyline points="829,1781.3 917,1781.3 1011,1781.3 1105,1781.3 1199,1781.3" fill="none" stroke="#6394CB" stroke-width="4.1" stroke-linejoin="round" clip-path="url(#clip11)"/>
<circle cx="829" cy="1781.3" r="7.8" fill="#6394CB"/>
<circle cx="917" cy="1781.3" r="7.8" fill="#6394CB"/>
<circle cx="1011" cy="1781.3" r="7.8" fill="#6394CB"/>
<circle cx="1105" cy="1781.3" r="7.8" fill="#6394CB"/>
<circle cx="1199" cy="1781.3" r="7.8" fill="#6394CB"/>
<polyline points="829,1781.3 917,1781.3 1011,1781.3 1105,1781.3 1199,1781.3" fill="none" stroke="#6CC49A" stroke-width="4.1" stroke-linejoin="round" clip-path="url(#clip11)"/>
<circle cx="829" cy="1781.3" r="7.8" fill="#6CC49A"/>
<circle cx="917" cy="1781.3" r="7.8" fill="#6CC49A"/>
<circle cx="1011" cy="1781.3" r="7.8" fill="#6CC49A"/>
<circle cx="1105" cy="1781.3" r="7.8" fill="#6CC49A"/>
<circle cx="1199" cy="1781.3" r="7.8" fill="#6CC49A"/>
<polyline points="829,1781.3 917,1781.3 1011,1781.3 1105,1781.3 1199,1781.3" fill="none" stroke="#EC5C92" stroke-width="4.1" stroke-linejoin="round" clip-path="url(#clip11)"/>
<circle cx="829" cy="1781.3" r="7.8" fill="#EC5C92"/>
<circle cx="917" cy="1781.3" r="7.8" fill="#EC5C92"/>
<circle cx="1011" cy="1781.3" r="7.8" fill="#EC5C92"/>
<circle cx="1105" cy="1781.3" r="7.8" fill="#EC5C92"/>
<circle cx="1199" cy="1781.3" r="7.8" fill="#EC5C92"/>
<polyline points="829,1781.3 917,1781.3 1011,1781.3 1105,1781.3 1199,1781.3" fill="none" stroke="#F39A37" stroke-width="4.1" stroke-linejoin="round" clip-path="url(#clip11)"/>
<circle cx="829" cy="1781.3" r="7.8" fill="#F39A37"/>
<circle cx="917" cy="1781.3" r="7.8" fill="#F39A37"/>
<circle cx="1011" cy="1781.3" r="7.8" fill="#F39A37"/>
<circle cx="1105" cy="1781.3" r="7.8" fill="#F39A37"/>
<circle cx="1199" cy="1781.3" r="7.8" fill="#F39A37"/>
<clipPath id="clip20"><rect x="1398.1000000000001" y="808.3" width="62" height="460"/><rect x="1482.0000000000002" y="808.3" width="400" height="460"/></clipPath>
<line x1="1418.1" y1="826.5" x2="1418.1" y2="1239" stroke="#000" stroke-width="3.6"/>
<line x1="1407.1" y1="1227.3" x2="1418.1" y2="1227.3" stroke="#000" stroke-width="3.6"/>
<text transform="translate(1405.9 1227.6) scale(1 1.08)" y="10.74" text-anchor="end" font-family="'Liberation Sans', Arial, sans-serif" font-weight="bold" font-size="30">0</text>
<line x1="1407.1" y1="1094.3" x2="1418.1" y2="1094.3" stroke="#000" stroke-width="3.6"/>
<text transform="translate(1405.9 1094.6) scale(1 1.08)" y="10.74" text-anchor="end" font-family="'Liberation Sans', Arial, sans-serif" font-weight="bold" font-size="30">500</text>
<line x1="1407.1" y1="961.3" x2="1418.1" y2="961.3" stroke="#000" stroke-width="3.6"/>
<text transform="translate(1405.9 961.6) scale(1 1.08)" y="10.74" text-anchor="end" font-family="'Liberation Sans', Arial, sans-serif" font-weight="bold" font-size="30">1000</text>
<line x1="1407.1" y1="828.3" x2="1418.1" y2="828.3" stroke="#000" stroke-width="3.6"/>
<text transform="translate(1405.9 828.6) scale(1 1.08)" y="10.74" text-anchor="end" font-family="'Liberation Sans', Arial, sans-serif" font-weight="bold" font-size="30">1500</text>
<line x1="1416.3" y1="1227.3" x2="1458.1" y2="1227.3" stroke="#000" stroke-width="3.6"/>
<line x1="1484.1" y1="1227.3" x2="1818" y2="1227.3" stroke="#000" stroke-width="3.6"/>
<line x1="1456.2" y1="1227.3" x2="1456.2" y2="1234.9" stroke="#000" stroke-width="3.8"/>
<line x1="1486" y1="1227.3" x2="1486" y2="1234.9" stroke="#000" stroke-width="3.8"/>
<line x1="1534.4" y1="1227.3" x2="1534.4" y2="1239" stroke="#000" stroke-width="3.6"/>
<line x1="1628.4" y1="1227.3" x2="1628.4" y2="1239" stroke="#000" stroke-width="3.6"/>
<line x1="1722.4" y1="1227.3" x2="1722.4" y2="1239" stroke="#000" stroke-width="3.6"/>
<line x1="1816.4" y1="1227.3" x2="1816.4" y2="1239" stroke="#000" stroke-width="3.6"/>
<text transform="translate(1418.1 1260) scale(1 1.1)" y="10.74" text-anchor="middle" font-family="'Liberation Sans', Arial, sans-serif" font-weight="bold" font-size="30">0</text>
<text transform="translate(1534.4 1260) scale(1 1.1)" y="10.74" text-anchor="middle" font-family="'Liberation Sans', Arial, sans-serif" font-weight="bold" font-size="30">0.1</text>
<text transform="translate(1628.4 1260) scale(1 1.1)" y="10.74" text-anchor="middle" font-family="'Liberation Sans', Arial, sans-serif" font-weight="bold" font-size="30">1</text>
<text transform="translate(1722.4 1260) scale(1 1.1)" y="10.74" text-anchor="middle" font-family="'Liberation Sans', Arial, sans-serif" font-weight="bold" font-size="30">10</text>
<text transform="translate(1816.4 1260) scale(1 1.1)" y="10.74" text-anchor="middle" font-family="'Liberation Sans', Arial, sans-serif" font-weight="bold" font-size="30">100</text>
<text transform="translate(1319.3 1028.8) rotate(-90)" text-anchor="middle" font-family="'Liberation Sans', Arial, sans-serif" font-weight="bold" font-size="32.5" textLength="230" lengthAdjust="spacingAndGlyphs">hIFN-<tspan font-family="'Liberation Serif', 'Times New Roman', serif" font-weight="normal" font-size="30">γ</tspan>  (pg/mL)</text>
<text x="1618.9" y="1319.3" text-anchor="middle" font-family="'Liberation Sans', Arial, sans-serif" font-weight="bold" font-size="33.4">Mutant Peptide (<tspan font-family="'Liberation Serif', 'Times New Roman', serif" font-weight="normal" font-size="34">μ</tspan>g/mL)</text>
<text x="1617.9" y="727.6" text-anchor="middle" font-family="'Liberation Sans', Arial, sans-serif" font-weight="bold" font-size="34.2">pHLA: IDH2<tspan font-size="17.5" dy="-17">R140Q</tspan><tspan dy="17">-HLA-B*07:02</tspan></text>
<text x="1618.3" y="764.7" text-anchor="middle" font-family="'Liberation Sans', Arial, sans-serif" font-weight="bold" font-size="34.2">scFv clone: 1Q4</text>
<polyline points="1418.1,1214.3 1506.1,1214.3 1600.1,1213.3 1694.1,1212.3 1788.1,1209.3" fill="none" stroke="#9C9CA0" stroke-width="4.1" stroke-linejoin="round" clip-path="url(#clip20)"/>
<circle cx="1418.1" cy="1214.3" r="7.8" fill="#9C9CA0"/>
<circle cx="1506.1" cy="1214.3" r="7.8" fill="#9C9CA0"/>
<circle cx="1600.1" cy="1213.3" r="7.8" fill="#9C9CA0"/>
<circle cx="1694.1" cy="1212.3" r="7.8" fill="#9C9CA0"/>
<circle cx="1788.1" cy="1209.3" r="7.8" fill="#9C9CA0"/>
<polyline points="1418.1,1207.9 1506.1,1202.8 1600.1,1197.6 1694.1,1098.2 1788.1,869.6" fill="none" stroke="#6394CB" stroke-width="4.1" stroke-linejoin="round" clip-path="url(#clip20)"/>
<circle cx="1418.1" cy="1207.9" r="7.8" fill="#6394CB"/>
<circle cx="1506.1" cy="1202.8" r="7.8" fill="#6394CB"/>
<circle cx="1600.1" cy="1197.6" r="7.8" fill="#6394CB"/>
<circle cx="1694.1" cy="1098.2" r="7.8" fill="#6394CB"/>
<circle cx="1788.1" cy="869.6" r="7.8" fill="#6394CB"/>
<polyline points="1418.1,1224.7 1506.1,1222.6 1600.1,1215.7 1694.1,1207.9 1788.1,1150.9" fill="none" stroke="#6CC49A" stroke-width="4.1" stroke-linejoin="round" clip-path="url(#clip20)"/>
<circle cx="1418.1" cy="1224.7" r="7.8" fill="#6CC49A"/>
<circle cx="1506.1" cy="1222.6" r="7.8" fill="#6CC49A"/>
<circle cx="1600.1" cy="1215.7" r="7.8" fill="#6CC49A"/>
<circle cx="1694.1" cy="1207.9" r="7.8" fill="#6CC49A"/>
<circle cx="1788.1" cy="1150.9" r="7.8" fill="#6CC49A"/>
<polyline points="1418.1,1211.8 1506.1,1210.5 1600.1,1219.5 1694.1,1217.5 1788.1,1149" fill="none" stroke="#EC5C92" stroke-width="4.1" stroke-linejoin="round" clip-path="url(#clip20)"/>
<circle cx="1418.1" cy="1211.8" r="7.8" fill="#EC5C92"/>
<circle cx="1506.1" cy="1210.5" r="7.8" fill="#EC5C92"/>
<circle cx="1600.1" cy="1219.5" r="7.8" fill="#EC5C92"/>
<circle cx="1694.1" cy="1217.5" r="7.8" fill="#EC5C92"/>
<circle cx="1788.1" cy="1149" r="7.8" fill="#EC5C92"/>
<polyline points="1418.1,1215.7 1506.1,1215.7 1600.1,1212.3 1694.1,1215.7 1788.1,1188.6" fill="none" stroke="#F39A37" stroke-width="4.1" stroke-linejoin="round" clip-path="url(#clip20)"/>
<circle cx="1418.1" cy="1215.7" r="7.8" fill="#F39A37"/>
<circle cx="1506.1" cy="1215.7" r="7.8" fill="#F39A37"/>
<circle cx="1600.1" cy="1212.3" r="7.8" fill="#F39A37"/>
<circle cx="1694.1" cy="1215.7" r="7.8" fill="#F39A37"/>
<circle cx="1788.1" cy="1188.6" r="7.8" fill="#F39A37"/>
<clipPath id="clip21"><rect x="1398.1000000000001" y="1362.3" width="62" height="460"/><rect x="1482.0000000000002" y="1362.3" width="400" height="460"/></clipPath>
<line x1="1418.1" y1="1380.5" x2="1418.1" y2="1793" stroke="#000" stroke-width="3.6"/>
<line x1="1407.1" y1="1781.3" x2="1418.1" y2="1781.3" stroke="#000" stroke-width="3.6"/>
<text transform="translate(1405.9 1781.6) scale(1 1.08)" y="10.74" text-anchor="end" font-family="'Liberation Sans', Arial, sans-serif" font-weight="bold" font-size="30">0</text>
<line x1="1407.1" y1="1648.3" x2="1418.1" y2="1648.3" stroke="#000" stroke-width="3.6"/>
<text transform="translate(1405.9 1648.6) scale(1 1.08)" y="10.74" text-anchor="end" font-family="'Liberation Sans', Arial, sans-serif" font-weight="bold" font-size="30">500</text>
<line x1="1407.1" y1="1515.3" x2="1418.1" y2="1515.3" stroke="#000" stroke-width="3.6"/>
<text transform="translate(1405.9 1515.6) scale(1 1.08)" y="10.74" text-anchor="end" font-family="'Liberation Sans', Arial, sans-serif" font-weight="bold" font-size="30">1000</text>
<line x1="1407.1" y1="1382.3" x2="1418.1" y2="1382.3" stroke="#000" stroke-width="3.6"/>
<text transform="translate(1405.9 1382.6) scale(1 1.08)" y="10.74" text-anchor="end" font-family="'Liberation Sans', Arial, sans-serif" font-weight="bold" font-size="30">1500</text>
<line x1="1416.3" y1="1781.3" x2="1458.1" y2="1781.3" stroke="#000" stroke-width="3.6"/>
<line x1="1484.1" y1="1781.3" x2="1818" y2="1781.3" stroke="#000" stroke-width="3.6"/>
<line x1="1456.2" y1="1781.3" x2="1456.2" y2="1788.9" stroke="#000" stroke-width="3.8"/>
<line x1="1486" y1="1781.3" x2="1486" y2="1788.9" stroke="#000" stroke-width="3.8"/>
<line x1="1534.4" y1="1781.3" x2="1534.4" y2="1793" stroke="#000" stroke-width="3.6"/>
<line x1="1628.4" y1="1781.3" x2="1628.4" y2="1793" stroke="#000" stroke-width="3.6"/>
<line x1="1722.4" y1="1781.3" x2="1722.4" y2="1793" stroke="#000" stroke-width="3.6"/>
<line x1="1816.4" y1="1781.3" x2="1816.4" y2="1793" stroke="#000" stroke-width="3.6"/>
<text transform="translate(1418.1 1814) scale(1 1.1)" y="10.74" text-anchor="middle" font-family="'Liberation Sans', Arial, sans-serif" font-weight="bold" font-size="30">0</text>
<text transform="translate(1534.4 1814) scale(1 1.1)" y="10.74" text-anchor="middle" font-family="'Liberation Sans', Arial, sans-serif" font-weight="bold" font-size="30">0.1</text>
<text transform="translate(1628.4 1814) scale(1 1.1)" y="10.74" text-anchor="middle" font-family="'Liberation Sans', Arial, sans-serif" font-weight="bold" font-size="30">1</text>
<text transform="translate(1722.4 1814) scale(1 1.1)" y="10.74" text-anchor="middle" font-family="'Liberation Sans', Arial, sans-serif" font-weight="bold" font-size="30">10</text>
<text transform="translate(1816.4 1814) scale(1 1.1)" y="10.74" text-anchor="middle" font-family="'Liberation Sans', Arial, sans-serif" font-weight="bold" font-size="30">100</text>
<text transform="translate(1319.3 1582.8) rotate(-90)" text-anchor="middle" font-family="'Liberation Sans', Arial, sans-serif" font-weight="bold" font-size="32.5" textLength="230" lengthAdjust="spacingAndGlyphs">hIFN-<tspan font-family="'Liberation Serif', 'Times New Roman', serif" font-weight="normal" font-size="30">γ</tspan>  (pg/mL)</text>
<text x="1618.9" y="1873.3" text-anchor="middle" font-family="'Liberation Sans', Arial, sans-serif" font-weight="bold" font-size="33.4">Wildtype Peptide (<tspan font-family="'Liberation Serif', 'Times New Roman', serif" font-weight="normal" font-size="34">μ</tspan>g/mL)</text>
<polyline points="1418.1,1767.3 1506.1,1767.3 1600.1,1769.3 1694.1,1771.3 1788.1,1761.8" fill="none" stroke="#9C9CA0" stroke-width="4.1" stroke-linejoin="round" clip-path="url(#clip21)"/>
<circle cx="1418.1" cy="1767.3" r="7.8" fill="#9C9CA0"/>
<circle cx="1506.1" cy="1767.3" r="7.8" fill="#9C9CA0"/>
<circle cx="1600.1" cy="1769.3" r="7.8" fill="#9C9CA0"/>
<circle cx="1694.1" cy="1771.3" r="7.8" fill="#9C9CA0"/>
<circle cx="1788.1" cy="1761.8" r="7.8" fill="#9C9CA0"/>
<polyline points="1418.1,1762.8 1506.1,1762.5 1600.1,1779.3 1694.1,1773.3 1788.1,1765.3" fill="none" stroke="#6394CB" stroke-width="4.1" stroke-linejoin="round" clip-path="url(#clip21)"/>
<circle cx="1418.1" cy="1762.8" r="7.8" fill="#6394CB"/>
<circle cx="1506.1" cy="1762.5" r="7.8" fill="#6394CB"/>
<circle cx="1600.1" cy="1779.3" r="7.8" fill="#6394CB"/>
<circle cx="1694.1" cy="1773.3" r="7.8" fill="#6394CB"/>
<circle cx="1788.1" cy="1765.3" r="7.8" fill="#6394CB"/>
<polyline points="1418.1,1777.8 1506.1,1778.8 1600.1,1778.8 1694.1,1779.3 1788.1,1778.8" fill="none" stroke="#6CC49A" stroke-width="4.1" stroke-linejoin="round" clip-path="url(#clip21)"/>
<circle cx="1418.1" cy="1777.8" r="7.8" fill="#6CC49A"/>
<circle cx="1506.1" cy="1778.8" r="7.8" fill="#6CC49A"/>
<circle cx="1600.1" cy="1778.8" r="7.8" fill="#6CC49A"/>
<circle cx="1694.1" cy="1779.3" r="7.8" fill="#6CC49A"/>
<circle cx="1788.1" cy="1778.8" r="7.8" fill="#6CC49A"/>
<polyline points="1418.1,1766.8 1506.1,1770.8 1600.1,1778.3 1694.1,1775.8 1788.1,1764.3" fill="none" stroke="#EC5C92" stroke-width="4.1" stroke-linejoin="round" clip-path="url(#clip21)"/>
<circle cx="1418.1" cy="1766.8" r="7.8" fill="#EC5C92"/>
<circle cx="1506.1" cy="1770.8" r="7.8" fill="#EC5C92"/>
<circle cx="1600.1" cy="1778.3" r="7.8" fill="#EC5C92"/>
<circle cx="1694.1" cy="1775.8" r="7.8" fill="#EC5C92"/>
<circle cx="1788.1" cy="1764.3" r="7.8" fill="#EC5C92"/>
<polyline points="1418.1,1769.3 1506.1,1769.3 1600.1,1770.3 1694.1,1770.8 1788.1,1771.3" fill="none" stroke="#F39A37" stroke-width="4.1" stroke-linejoin="round" clip-path="url(#clip21)"/>
<circle cx="1418.1" cy="1769.3" r="7.8" fill="#F39A37"/>
<circle cx="1506.1" cy="1769.3" r="7.8" fill="#F39A37"/>
<circle cx="1600.1" cy="1770.3" r="7.8" fill="#F39A37"/>
<circle cx="1694.1" cy="1770.8" r="7.8" fill="#F39A37"/>
<circle cx="1788.1" cy="1771.3" r="7.8" fill="#F39A37"/>
</g>
<g id="panel-d">
<text x="-1" y="1985.5" font-family="'Liberation Sans', Arial, sans-serif" font-weight="bold" font-size="56">d</text>
<line x1="175.4" y1="1948.82" x2="175.4" y2="2420.62" stroke="#000" stroke-width="3.6"/>
<line x1="162.9" y1="1950.62" x2="175.4" y2="1950.62" stroke="#000" stroke-width="3.6"/>
<text transform="translate(159.9 1952.52) scale(1 1.11)" y="12.71" text-anchor="end" font-family="'Liberation Sans', Arial, sans-serif" font-weight="bold" font-size="35.5">180</text>
<line x1="162.9" y1="2067.67" x2="175.4" y2="2067.67" stroke="#000" stroke-width="3.6"/>
<text transform="translate(159.9 2069.57) scale(1 1.11)" y="12.71" text-anchor="end" font-family="'Liberation Sans', Arial, sans-serif" font-weight="bold" font-size="35.5">130</text>
<line x1="162.9" y1="2184.72" x2="175.4" y2="2184.72" stroke="#000" stroke-width="3.6"/>
<text transform="translate(159.9 2186.62) scale(1 1.11)" y="12.71" text-anchor="end" font-family="'Liberation Sans', Arial, sans-serif" font-weight="bold" font-size="35.5">80</text>
<line x1="162.9" y1="2301.77" x2="175.4" y2="2301.77" stroke="#000" stroke-width="3.6"/>
<text transform="translate(159.9 2303.67) scale(1 1.11)" y="12.71" text-anchor="end" font-family="'Liberation Sans', Arial, sans-serif" font-weight="bold" font-size="35.5">30</text>
<line x1="162.9" y1="2418.82" x2="175.4" y2="2418.82" stroke="#000" stroke-width="3.6"/>
<text transform="translate(159.9 2420.72) scale(1 1.11)" y="12.71" text-anchor="end" font-family="'Liberation Sans', Arial, sans-serif" font-weight="bold" font-size="35.5">-20</text>
<line x1="175.4" y1="2372" x2="875.28" y2="2372" stroke="#000" stroke-width="3.8"/>
<line x1="229.8" y1="2372" x2="229.8" y2="2385.8" stroke="#000" stroke-width="3.6"/>
<text transform="translate(229.8 2409) scale(1 1.1)" y="12.71" text-anchor="middle" font-family="'Liberation Sans', Arial, sans-serif" font-weight="bold" font-size="35.5">0</text>
<line x1="409.1" y1="2372" x2="409.1" y2="2385.8" stroke="#000" stroke-width="3.6"/>
<text transform="translate(409.1 2409) scale(1 1.1)" y="12.71" text-anchor="middle" font-family="'Liberation Sans', Arial, sans-serif" font-weight="bold" font-size="35.5">200</text>
<line x1="588.4" y1="2372" x2="588.4" y2="2385.8" stroke="#000" stroke-width="3.6"/>
<text transform="translate(588.4 2409) scale(1 1.1)" y="12.71" text-anchor="middle" font-family="'Liberation Sans', Arial, sans-serif" font-weight="bold" font-size="35.5">400</text>
<line x1="767.7" y1="2372" x2="767.7" y2="2385.8" stroke="#000" stroke-width="3.6"/>
<text transform="translate(767.7 2409) scale(1 1.1)" y="12.71" text-anchor="middle" font-family="'Liberation Sans', Arial, sans-serif" font-weight="bold" font-size="35.5">600</text>
<text transform="translate(525.64 2476.5) scale(1 1.05)" text-anchor="middle" font-family="'Liberation Sans', Arial, sans-serif" font-weight="bold" font-size="31.1">Time (secs)</text>
<text transform="translate(62.2 2186.2) rotate(-90) scale(1.0 1)" text-anchor="middle" font-family="'Liberation Sans', Arial, sans-serif" font-weight="bold" font-size="31.3">Response Units (RU)</text>
<text x="252.0" y="2026.6" font-family="'Liberation Sans', Arial, sans-serif" font-weight="bold" font-size="38" fill="#231F20">K<tspan font-size="23.5" dy="11.5">D</tspan><tspan dy="-11.5"> = 846 nM</tspan></text>
<line x1="683.6" y1="2007.8" x2="733.8000000000001" y2="2007.8" stroke="#440154" stroke-width="4.6" stroke-linecap="round"/>
<text x="761.5" y="2016.4" font-family="'Liberation Sans', Arial, sans-serif" font-size="25">6.25 nM</text>
<line x1="683.6" y1="2034.0" x2="733.8000000000001" y2="2034.0" stroke="#414487" stroke-width="4.6" stroke-linecap="round"/>
<text x="761.5" y="2042.6" font-family="'Liberation Sans', Arial, sans-serif" font-size="25">12.5 nM</text>
<line x1="683.6" y1="2064.1" x2="733.8000000000001" y2="2064.1" stroke="#2A788E" stroke-width="4.6" stroke-linecap="round"/>
<text x="761.5" y="2072.7" font-family="'Liberation Sans', Arial, sans-serif" font-size="25">25 nM</text>
<line x1="683.6" y1="2092.2" x2="733.8000000000001" y2="2092.2" stroke="#22A884" stroke-width="4.6" stroke-linecap="round"/>
<text x="761.5" y="2100.8" font-family="'Liberation Sans', Arial, sans-serif" font-size="25">50 nM</text>
<line x1="683.6" y1="2122.7" x2="733.8000000000001" y2="2122.7" stroke="#7AD151" stroke-width="4.6" stroke-linecap="round"/>
<text x="761.5" y="2131.3" font-family="'Liberation Sans', Arial, sans-serif" font-size="25">100 nM</text>
<line x1="683.6" y1="2153.0" x2="733.8000000000001" y2="2153.0" stroke="#FDE725" stroke-width="4.6" stroke-linecap="round"/>
<text x="761.5" y="2161.6" font-family="'Liberation Sans', Arial, sans-serif" font-size="25">200 nM</text>
<line x1="683.6" y1="2183.0" x2="733.8000000000001" y2="2183.0" stroke="#440154" stroke-width="4.6" stroke-linecap="round"/>
<text x="761.5" y="2191.6" font-family="'Liberation Sans', Arial, sans-serif" font-size="25">400 nM</text>
<line x1="683.6" y1="2212.8" x2="733.8000000000001" y2="2212.8" stroke="#414487" stroke-width="4.6" stroke-linecap="round"/>
<text x="761.5" y="2221.4" font-family="'Liberation Sans', Arial, sans-serif" font-size="25">800 nM</text>
<clipPath id="clipd"><rect x="175.4" y="1940" width="701.88" height="540"/></clipPath>
<polyline points="176.01,2372 180.49,2372 184.98,2372 189.46,2372 193.94,2372 198.42,2372 202.91,2372 207.39,2372 211.87,2372 216.35,2372 220.84,2372 225.32,2372 229.8,2372 234.28,2372 238.41,2372 238.59,2388.39 239.12,2301.77 240.56,2301.51 243.25,2301.16 245.94,2300.83 248.63,2300.53 251.32,2300.25 254.01,2300 256.69,2299.77 259.38,2299.56 262.07,2299.36 264.76,2299.18 267.45,2299.02 270.14,2298.86 272.83,2298.73 275.52,2298.6 278.21,2298.48 280.9,2298.37 283.59,2298.27 286.28,2298.18 288.97,2298.1 291.66,2298.02 294.35,2297.95 297.04,2297.89 299.73,2297.83 302.42,2297.78 305.11,2297.73 307.8,2297.68 310.49,2297.64 313.17,2297.6 315.86,2297.57 318.55,2297.53 321.24,2297.5 323.93,2297.48 326.62,2297.45 329.31,2297.43 332,2297.41 334.69,2297.39 337.38,2297.37 340.07,2297.36 342.76,2297.34 345.45,2297.33 346.35,2297.32 347.69,2366.85 355.31,2366.94 364.27,2367.04 373.24,2367.14 382.21,2367.23 391.17,2367.33 400.13,2367.42 409.1,2367.51 418.06,2367.6 427.03,2367.69 436,2367.77 444.96,2367.85 453.93,2367.94 462.89,2368.02 471.86,2368.1 480.82,2368.17 489.79,2368.25 498.75,2368.32 507.71,2368.4 516.68,2368.47 525.64,2368.54 534.61,2368.61 543.58,2368.67 552.54,2368.74 561.5,2368.8 570.47,2368.87 579.43,2368.93 588.4,2368.99 597.37,2369.05 606.33,2369.11 615.3,2369.17 624.26,2369.22 633.23,2369.28 642.19,2369.33 651.15,2369.38 660.12,2369.43 669.09,2369.49 678.05,2369.54 687.01,2369.58 695.98,2369.63 704.94,2369.68 713.91,2369.72 722.88,2369.77 731.84,2369.81 740.81,2369.86 749.77,2369.9 758.73,2369.94 767.7,2369.98 776.66,2370.02 785.63,2370.06 794.6,2370.1 803.56,2370.14 812.53,2370.17 821.49,2370.21 830.45,2370.25 839.42,2370.28 848.38,2370.31 857.35,2370.35 866.32,2370.38 875.28,2370.41" fill="none" stroke="#414487" stroke-width="4.4" stroke-linejoin="round" clip-path="url(#clipd)"/>
<polyline points="176.01,2372 180.49,2372 184.98,2372 189.46,2372 193.94,2372 198.42,2372 202.91,2372 207.39,2372 211.87,2372 216.35,2372 220.84,2372 225.32,2372 229.8,2372 234.28,2372 238.41,2372 239.12,2333.84 240.56,2333.76 243.25,2333.65 245.94,2333.55 248.63,2333.45 251.32,2333.36 254.01,2333.28 256.69,2333.21 259.38,2333.14 262.07,2333.08 264.76,2333.02 267.45,2332.97 270.14,2332.92 272.83,2332.88 275.52,2332.84 278.21,2332.8 280.9,2332.77 283.59,2332.74 286.28,2332.71 288.97,2332.68 291.66,2332.66 294.35,2332.64 297.04,2332.62 299.73,2332.6 302.42,2332.58 305.11,2332.57 307.8,2332.55 310.49,2332.54 313.17,2332.53 315.86,2332.51 318.55,2332.5 321.24,2332.49 323.93,2332.49 326.62,2332.48 329.31,2332.47 332,2332.46 334.69,2332.46 337.38,2332.45 340.07,2332.45 342.76,2332.44 345.45,2332.44 346.35,2332.44 347.69,2369.66 355.31,2369.7 364.27,2369.74 373.24,2369.79 382.21,2369.83 391.17,2369.88 400.13,2369.92 409.1,2369.96 418.06,2370 427.03,2370.04 436,2370.08 444.96,2370.12 453.93,2370.15 462.89,2370.19 471.86,2370.23 480.82,2370.26 489.79,2370.29 498.75,2370.33 507.71,2370.36 516.68,2370.39 525.64,2370.43 534.61,2370.46 543.58,2370.49 552.54,2370.52 561.5,2370.55 570.47,2370.58 579.43,2370.6 588.4,2370.63 597.37,2370.66 606.33,2370.69 615.3,2370.71 624.26,2370.74 633.23,2370.76 642.19,2370.79 651.15,2370.81 660.12,2370.83 669.09,2370.86 678.05,2370.88 687.01,2370.9 695.98,2370.92 704.94,2370.94 713.91,2370.97 722.88,2370.99 731.84,2371.01 740.81,2371.03 749.77,2371.05 758.73,2371.06 767.7,2371.08 776.66,2371.1 785.63,2371.12 794.6,2371.14 803.56,2371.15 812.53,2371.17 821.49,2371.19 830.45,2371.2 839.42,2371.22 848.38,2371.23 857.35,2371.25 866.32,2371.26 875.28,2371.28" fill="none" stroke="#440154" stroke-width="4.4" stroke-linejoin="round" clip-path="url(#clipd)"/>
<polyline points="176.01,2372 180.49,2372 184.98,2372 189.46,2372 193.94,2372 198.42,2372 202.91,2372 207.39,2372 211.87,2372 216.35,2372 220.84,2372 225.32,2372 229.8,2372 234.28,2372 238.41,2372 239.12,2352.8 240.56,2352.79 243.25,2352.77 245.94,2352.75 248.63,2352.74 251.32,2352.72 254.01,2352.71 256.69,2352.7 259.38,2352.69 262.07,2352.68 264.76,2352.67 267.45,2352.66 270.14,2352.65 272.83,2352.64 275.52,2352.64 278.21,2352.63 280.9,2352.63 283.59,2352.62 286.28,2352.62 288.97,2352.61 291.66,2352.61 294.35,2352.6 297.04,2352.6 299.73,2352.6 302.42,2352.59 305.11,2352.59 307.8,2352.59 310.49,2352.59 313.17,2352.58 315.86,2352.58 318.55,2352.58 321.24,2352.58 323.93,2352.58 326.62,2352.58 329.31,2352.58 332,2352.57 334.69,2352.57 337.38,2352.57 340.07,2352.57 342.76,2352.57 345.45,2352.57 346.35,2352.57 347.69,2370.13 355.31,2370.16 364.27,2370.2 373.24,2370.23 382.21,2370.27 391.17,2370.3 400.13,2370.33 409.1,2370.37 418.06,2370.4 427.03,2370.43 436,2370.46 444.96,2370.49 453.93,2370.52 462.89,2370.55 471.86,2370.58 480.82,2370.61 489.79,2370.64 498.75,2370.66 507.71,2370.69 516.68,2370.72 525.64,2370.74 534.61,2370.77 543.58,2370.79 552.54,2370.81 561.5,2370.84 570.47,2370.86 579.43,2370.88 588.4,2370.91 597.37,2370.93 606.33,2370.95 615.3,2370.97 624.26,2370.99 633.23,2371.01 642.19,2371.03 651.15,2371.05 660.12,2371.07 669.09,2371.09 678.05,2371.1 687.01,2371.12 695.98,2371.14 704.94,2371.16 713.91,2371.17 722.88,2371.19 731.84,2371.21 740.81,2371.22 749.77,2371.24 758.73,2371.25 767.7,2371.27 776.66,2371.28 785.63,2371.3 794.6,2371.31 803.56,2371.32 812.53,2371.34 821.49,2371.35 830.45,2371.36 839.42,2371.37 848.38,2371.39 857.35,2371.4 866.32,2371.41 875.28,2371.42" fill="none" stroke="#FDE725" stroke-width="4.4" stroke-linejoin="round" clip-path="url(#clipd)"/>
<polyline points="176.01,2372 180.49,2372 184.98,2372 189.46,2372 193.94,2372 198.42,2372 202.91,2372 207.39,2372 211.87,2372 216.35,2372 220.84,2372 225.32,2372 229.8,2372 234.28,2372 238.41,2372 239.12,2361.47 240.56,2361.45 243.25,2361.43 245.94,2361.42 248.63,2361.4 251.32,2361.39 254.01,2361.37 256.69,2361.36 259.38,2361.35 262.07,2361.34 264.76,2361.33 267.45,2361.32 270.14,2361.31 272.83,2361.31 275.52,2361.3 278.21,2361.29 280.9,2361.29 283.59,2361.28 286.28,2361.28 288.97,2361.27 291.66,2361.27 294.35,2361.26 297.04,2361.26 299.73,2361.26 302.42,2361.26 305.11,2361.25 307.8,2361.25 310.49,2361.25 313.17,2361.25 315.86,2361.24 318.55,2361.24 321.24,2361.24 323.93,2361.24 326.62,2361.24 329.31,2361.24 332,2361.24 334.69,2361.23 337.38,2361.23 340.07,2361.23 342.76,2361.23 345.45,2361.23 346.35,2361.23 347.69,2370.83 355.31,2370.85 364.27,2370.87 373.24,2370.89 382.21,2370.92 391.17,2370.94 400.13,2370.96 409.1,2370.98 418.06,2371 427.03,2371.02 436,2371.04 444.96,2371.06 453.93,2371.08 462.89,2371.09 471.86,2371.11 480.82,2371.13 489.79,2371.15 498.75,2371.16 507.71,2371.18 516.68,2371.2 525.64,2371.21 534.61,2371.23 543.58,2371.24 552.54,2371.26 561.5,2371.27 570.47,2371.29 579.43,2371.3 588.4,2371.32 597.37,2371.33 606.33,2371.34 615.3,2371.36 624.26,2371.37 633.23,2371.38 642.19,2371.39 651.15,2371.41 660.12,2371.42 669.09,2371.43 678.05,2371.44 687.01,2371.45 695.98,2371.46 704.94,2371.47 713.91,2371.48 722.88,2371.49 731.84,2371.5 740.81,2371.51 749.77,2371.52 758.73,2371.53 767.7,2371.54 776.66,2371.55 785.63,2371.56 794.6,2371.57 803.56,2371.58 812.53,2371.59 821.49,2371.59 830.45,2371.6 839.42,2371.61 848.38,2371.62 857.35,2371.62 866.32,2371.63 875.28,2371.64" fill="none" stroke="#7AD151" stroke-width="4.4" stroke-linejoin="round" clip-path="url(#clipd)"/>
<polyline points="176.01,2372 180.49,2372 184.98,2372 189.46,2372 193.94,2372 198.42,2372 202.91,2372 207.39,2372 211.87,2372 216.35,2372 220.84,2372 225.32,2372 229.8,2372 234.28,2372 238.41,2372 239.12,2364.98 240.56,2364.98 243.25,2364.98 245.94,2364.98 248.63,2364.98 251.32,2364.98 254.01,2364.98 256.69,2364.98 259.38,2364.98 262.07,2364.98 264.76,2364.98 267.45,2364.98 270.14,2364.98 272.83,2364.98 275.52,2364.98 278.21,2364.98 280.9,2364.98 283.59,2364.98 286.28,2364.98 288.97,2364.98 291.66,2364.98 294.35,2364.98 297.04,2364.98 299.73,2364.98 302.42,2364.98 305.11,2364.98 307.8,2364.98 310.49,2364.98 313.17,2364.98 315.86,2364.98 318.55,2364.98 321.24,2364.98 323.93,2364.98 326.62,2364.98 329.31,2364.98 332,2364.98 334.69,2364.98 337.38,2364.98 340.07,2364.98 342.76,2364.98 345.45,2364.98 346.35,2364.98 347.69,2371.3 355.31,2371.31 364.27,2371.32 373.24,2371.34 382.21,2371.35 391.17,2371.36 400.13,2371.38 409.1,2371.39 418.06,2371.4 427.03,2371.41 436,2371.42 444.96,2371.43 453.93,2371.45 462.89,2371.46 471.86,2371.47 480.82,2371.48 489.79,2371.49 498.75,2371.5 507.71,2371.51 516.68,2371.52 525.64,2371.53 534.61,2371.54 543.58,2371.55 552.54,2371.56 561.5,2371.56 570.47,2371.57 579.43,2371.58 588.4,2371.59 597.37,2371.6 606.33,2371.61 615.3,2371.61 624.26,2371.62 633.23,2371.63 642.19,2371.64 651.15,2371.64 660.12,2371.65 669.09,2371.66 678.05,2371.66 687.01,2371.67 695.98,2371.68 704.94,2371.68 713.91,2371.69 722.88,2371.7 731.84,2371.7 740.81,2371.71 749.77,2371.71 758.73,2371.72 767.7,2371.72 776.66,2371.73 785.63,2371.74 794.6,2371.74 803.56,2371.75 812.53,2371.75 821.49,2371.76 830.45,2371.76 839.42,2371.77 848.38,2371.77 857.35,2371.77 866.32,2371.78 875.28,2371.78" fill="none" stroke="#22A884" stroke-width="4.4" stroke-linejoin="round" clip-path="url(#clipd)"/>
<polyline points="176.01,2372 180.49,2372 184.98,2372 189.46,2372 193.94,2372 198.42,2372 202.91,2372 207.39,2372 211.87,2372 216.35,2372 220.84,2372 225.32,2372 229.8,2372 234.28,2372 238.41,2372 239.12,2366.85 240.56,2366.85 243.25,2366.85 245.94,2366.85 248.63,2366.85 251.32,2366.85 254.01,2366.85 256.69,2366.85 259.38,2366.85 262.07,2366.85 264.76,2366.85 267.45,2366.85 270.14,2366.85 272.83,2366.85 275.52,2366.85 278.21,2366.85 280.9,2366.85 283.59,2366.85 286.28,2366.85 288.97,2366.85 291.66,2366.85 294.35,2366.85 297.04,2366.85 299.73,2366.85 302.42,2366.85 305.11,2366.85 307.8,2366.85 310.49,2366.85 313.17,2366.85 315.86,2366.85 318.55,2366.85 321.24,2366.85 323.93,2366.85 326.62,2366.85 329.31,2366.85 332,2366.85 334.69,2366.85 337.38,2366.85 340.07,2366.85 342.76,2366.85 345.45,2366.85 346.35,2366.85 347.69,2371.53 355.31,2371.54 364.27,2371.55 373.24,2371.56 382.21,2371.57 391.17,2371.58 400.13,2371.58 409.1,2371.59 418.06,2371.6 427.03,2371.61 436,2371.62 444.96,2371.62 453.93,2371.63 462.89,2371.64 471.86,2371.65 480.82,2371.65 489.79,2371.66 498.75,2371.67 507.71,2371.67 516.68,2371.68 525.64,2371.69 534.61,2371.69 543.58,2371.7 552.54,2371.7 561.5,2371.71 570.47,2371.72 579.43,2371.72 588.4,2371.73 597.37,2371.73 606.33,2371.74 615.3,2371.74 624.26,2371.75 633.23,2371.75 642.19,2371.76 651.15,2371.76 660.12,2371.77 669.09,2371.77 678.05,2371.78 687.01,2371.78 695.98,2371.78 704.94,2371.79 713.91,2371.79 722.88,2371.8 731.84,2371.8 740.81,2371.81 749.77,2371.81 758.73,2371.81 767.7,2371.82 776.66,2371.82 785.63,2371.82 794.6,2371.83 803.56,2371.83 812.53,2371.83 821.49,2371.84 830.45,2371.84 839.42,2371.84 848.38,2371.85 857.35,2371.85 866.32,2371.85 875.28,2371.86" fill="none" stroke="#2A788E" stroke-width="4.4" stroke-linejoin="round" clip-path="url(#clipd)"/>
<polyline points="176.01,2372 180.49,2372 184.98,2372 189.46,2372 193.94,2372 198.42,2372 202.91,2372 207.39,2372 211.87,2372 216.35,2372 220.84,2372 225.32,2372 229.8,2372 234.28,2372 238.41,2372 239.12,2369.19 240.56,2369.19 243.25,2369.19 245.94,2369.19 248.63,2369.19 251.32,2369.19 254.01,2369.19 256.69,2369.19 259.38,2369.19 262.07,2369.19 264.76,2369.19 267.45,2369.19 270.14,2369.19 272.83,2369.19 275.52,2369.19 278.21,2369.19 280.9,2369.19 283.59,2369.19 286.28,2369.19 288.97,2369.19 291.66,2369.19 294.35,2369.19 297.04,2369.19 299.73,2369.19 302.42,2369.19 305.11,2369.19 307.8,2369.19 310.49,2369.19 313.17,2369.19 315.86,2369.19 318.55,2369.19 321.24,2369.19 323.93,2369.19 326.62,2369.19 329.31,2369.19 332,2369.19 334.69,2369.19 337.38,2369.19 340.07,2369.19 342.76,2369.19 345.45,2369.19 346.35,2369.19 347.69,2372 355.31,2372 364.27,2372 373.24,2372 382.21,2372 391.17,2372 400.13,2372 409.1,2372 418.06,2372 427.03,2372 436,2372 444.96,2372 453.93,2372 462.89,2372 471.86,2372 480.82,2372 489.79,2372 498.75,2372 507.71,2372 516.68,2372 525.64,2372 534.61,2372 543.58,2372 552.54,2372 561.5,2372 570.47,2372 579.43,2372 588.4,2372 597.37,2372 606.33,2372 615.3,2372 624.26,2372 633.23,2372 642.19,2372 651.15,2372 660.12,2372 669.09,2372 678.05,2372 687.01,2372 695.98,2372 704.94,2372 713.91,2372 722.88,2372 731.84,2372 740.81,2372 749.77,2372 758.73,2372 767.7,2372 776.66,2372 785.63,2372 794.6,2372 803.56,2372 812.53,2372 821.49,2372 830.45,2372 839.42,2372 848.38,2372 857.35,2372 866.32,2372 875.28,2372" fill="none" stroke="#414487" stroke-width="4.4" stroke-linejoin="round" clip-path="url(#clipd)"/>
<polyline points="176.01,2372 180.49,2372 184.98,2372 189.46,2372 193.94,2372 198.42,2372 202.91,2372 207.39,2372 211.87,2372 216.35,2372 220.84,2372 225.32,2372 229.8,2372 234.28,2372 238.41,2372 239.12,2371.06 240.56,2371.06 243.25,2371.06 245.94,2371.06 248.63,2371.06 251.32,2371.06 254.01,2371.06 256.69,2371.06 259.38,2371.06 262.07,2371.06 264.76,2371.06 267.45,2371.06 270.14,2371.06 272.83,2371.06 275.52,2371.06 278.21,2371.06 280.9,2371.06 283.59,2371.06 286.28,2371.06 288.97,2371.06 291.66,2371.06 294.35,2371.06 297.04,2371.06 299.73,2371.06 302.42,2371.06 305.11,2371.06 307.8,2371.06 310.49,2371.06 313.17,2371.06 315.86,2371.06 318.55,2371.06 321.24,2371.06 323.93,2371.06 326.62,2371.06 329.31,2371.06 332,2371.06 334.69,2371.06 337.38,2371.06 340.07,2371.06 342.76,2371.06 345.45,2371.06 346.35,2371.06 347.69,2372 355.31,2372 364.27,2372 373.24,2372 382.21,2372 391.17,2372 400.13,2372 409.1,2372 418.06,2372 427.03,2372 436,2372 444.96,2372 453.93,2372 462.89,2372 471.86,2372 480.82,2372 489.79,2372 498.75,2372 507.71,2372 516.68,2372 525.64,2372 534.61,2372 543.58,2372 552.54,2372 561.5,2372 570.47,2372 579.43,2372 588.4,2372 597.37,2372 606.33,2372 615.3,2372 624.26,2372 633.23,2372 642.19,2372 651.15,2372 660.12,2372 669.09,2372 678.05,2372 687.01,2372 695.98,2372 704.94,2372 713.91,2372 722.88,2372 731.84,2372 740.81,2372 749.77,2372 758.73,2372 767.7,2372 776.66,2372 785.63,2372 794.6,2372 803.56,2372 812.53,2372 821.49,2372 830.45,2372 839.42,2372 848.38,2372 857.35,2372 866.32,2372 875.28,2372" fill="none" stroke="#440154" stroke-width="4.4" stroke-linejoin="round" clip-path="url(#clipd)"/>
</g>
<g id="panel-e">
<text x="993" y="1985.5" font-family="'Liberation Sans', Arial, sans-serif" font-weight="bold" font-size="56">e</text>
<line x1="1170.4" y1="1948.82" x2="1170.4" y2="2420.62" stroke="#000" stroke-width="3.6"/>
<line x1="1151.2" y1="1950.62" x2="1170.4" y2="1950.62" stroke="#000" stroke-width="3.6"/>
<text transform="translate(1148.2 1952.52) scale(1 1.11)" y="12.71" text-anchor="end" font-family="'Liberation Sans', Arial, sans-serif" font-weight="bold" font-size="35.5">180</text>
<line x1="1151.2" y1="2067.67" x2="1170.4" y2="2067.67" stroke="#000" stroke-width="3.6"/>
<text transform="translate(1148.2 2069.57) scale(1 1.11)" y="12.71" text-anchor="end" font-family="'Liberation Sans', Arial, sans-serif" font-weight="bold" font-size="35.5">130</text>
<line x1="1151.2" y1="2184.72" x2="1170.4" y2="2184.72" stroke="#000" stroke-width="3.6"/>
<text transform="translate(1148.2 2186.62) scale(1 1.11)" y="12.71" text-anchor="end" font-family="'Liberation Sans', Arial, sans-serif" font-weight="bold" font-size="35.5">80</text>
<line x1="1151.2" y1="2301.77" x2="1170.4" y2="2301.77" stroke="#000" stroke-width="3.6"/>
<text transform="translate(1148.2 2303.67) scale(1 1.11)" y="12.71" text-anchor="end" font-family="'Liberation Sans', Arial, sans-serif" font-weight="bold" font-size="35.5">30</text>
<line x1="1151.2" y1="2418.82" x2="1170.4" y2="2418.82" stroke="#000" stroke-width="3.6"/>
<text transform="translate(1148.2 2420.72) scale(1 1.11)" y="12.71" text-anchor="end" font-family="'Liberation Sans', Arial, sans-serif" font-weight="bold" font-size="35.5">-20</text>
<line x1="1170.4" y1="2372" x2="1869.48" y2="2372" stroke="#000" stroke-width="3.8"/>
<line x1="1224" y1="2372" x2="1224" y2="2385.8" stroke="#000" stroke-width="3.6"/>
<text transform="translate(1224 2409) scale(1 1.1)" y="12.71" text-anchor="middle" font-family="'Liberation Sans', Arial, sans-serif" font-weight="bold" font-size="35.5">0</text>
<line x1="1403.3" y1="2372" x2="1403.3" y2="2385.8" stroke="#000" stroke-width="3.6"/>
<text transform="translate(1403.3 2409) scale(1 1.1)" y="12.71" text-anchor="middle" font-family="'Liberation Sans', Arial, sans-serif" font-weight="bold" font-size="35.5">200</text>
<line x1="1582.6" y1="2372" x2="1582.6" y2="2385.8" stroke="#000" stroke-width="3.6"/>
<text transform="translate(1582.6 2409) scale(1 1.1)" y="12.71" text-anchor="middle" font-family="'Liberation Sans', Arial, sans-serif" font-weight="bold" font-size="35.5">400</text>
<line x1="1761.9" y1="2372" x2="1761.9" y2="2385.8" stroke="#000" stroke-width="3.6"/>
<text transform="translate(1761.9 2409) scale(1 1.1)" y="12.71" text-anchor="middle" font-family="'Liberation Sans', Arial, sans-serif" font-weight="bold" font-size="35.5">600</text>
<text transform="translate(1519.85 2474.2) scale(1 1.05)" text-anchor="middle" font-family="'Liberation Sans', Arial, sans-serif" font-weight="bold" font-size="31.1">Time (secs)</text>
<text transform="translate(1050.9 2179.3) rotate(-90) scale(0.968 1)" text-anchor="middle" font-family="'Liberation Sans', Arial, sans-serif" font-weight="bold" font-size="31.3">Response Units (RU)</text>
<text x="1404.5" y="2026.6" font-family="'Liberation Sans', Arial, sans-serif" font-weight="bold" font-size="38" fill="#231F20">K<tspan font-size="23.5" dy="11.5">D</tspan><tspan dy="-11.5"> = 44 nM</tspan></text>
<line x1="1690.6" y1="2007.8" x2="1740.8" y2="2007.8" stroke="#440154" stroke-width="4.6" stroke-linecap="round"/>
<text x="1767.5" y="2016.4" font-family="'Liberation Sans', Arial, sans-serif" font-size="25">6.25 nM</text>
<line x1="1690.6" y1="2034.0" x2="1740.8" y2="2034.0" stroke="#414487" stroke-width="4.6" stroke-linecap="round"/>
<text x="1767.5" y="2042.6" font-family="'Liberation Sans', Arial, sans-serif" font-size="25">12.5 nM</text>
<line x1="1690.6" y1="2064.1" x2="1740.8" y2="2064.1" stroke="#2A788E" stroke-width="4.6" stroke-linecap="round"/>
<text x="1767.5" y="2072.7" font-family="'Liberation Sans', Arial, sans-serif" font-size="25">25 nM</text>
<line x1="1690.6" y1="2092.2" x2="1740.8" y2="2092.2" stroke="#22A884" stroke-width="4.6" stroke-linecap="round"/>
<text x="1767.5" y="2100.8" font-family="'Liberation Sans', Arial, sans-serif" font-size="25">50 nM</text>
<line x1="1690.6" y1="2122.7" x2="1740.8" y2="2122.7" stroke="#7AD151" stroke-width="4.6" stroke-linecap="round"/>
<text x="1767.5" y="2131.3" font-family="'Liberation Sans', Arial, sans-serif" font-size="25">100 nM</text>
<line x1="1690.6" y1="2153.0" x2="1740.8" y2="2153.0" stroke="#FDE725" stroke-width="4.6" stroke-linecap="round"/>
<text x="1767.5" y="2161.6" font-family="'Liberation Sans', Arial, sans-serif" font-size="25">200 nM</text>
<line x1="1690.6" y1="2183.0" x2="1740.8" y2="2183.0" stroke="#440154" stroke-width="4.6" stroke-linecap="round"/>
<text x="1767.5" y="2191.6" font-family="'Liberation Sans', Arial, sans-serif" font-size="25">400 nM</text>
<line x1="1690.6" y1="2212.8" x2="1740.8" y2="2212.8" stroke="#414487" stroke-width="4.6" stroke-linecap="round"/>
<text x="1767.5" y="2221.4" font-family="'Liberation Sans', Arial, sans-serif" font-size="25">800 nM</text>
<clipPath id="clipe"><rect x="1170.4" y="1940" width="701.08" height="540"/></clipPath>
<polyline points="1170.21,2372 1223.55,2372 1224,2372 1224.45,2250.19 1224.9,2169.89 1225.34,2116.95 1225.79,2082.05 1226.24,2059.04 1226.69,2043.87 1227.14,2033.87 1227.59,2027.28 1228.03,2022.94 1228.48,2020.07 1228.93,2018.18 1229.38,2016.94 1229.83,2016.12 1230.28,2015.58 1230.72,2015.22 1231.17,2014.98 1231.62,2014.83 1232.07,2014.73 1232.52,2014.66 1232.96,2014.62 1233.41,2014.59 1233.86,2014.57 1234.31,2014.55 1234.76,2014.55 1235.21,2014.54 1235.65,2014.54 1236.1,2014.53 1236.55,2014.53 1237,2014.53 1237.45,2014.53 1237.9,2014.53 1238.34,2014.53 1238.79,2014.53 1239.24,2014.53 1239.69,2014.53 1240.14,2014.53 1240.59,2014.53 1241.03,2014.53 1241.48,2014.53 1241.93,2014.53 1243.72,2014.53 1245.52,2014.53 1247.31,2014.53 1249.1,2014.53 1250.89,2014.53 1252.69,2014.53 1254.48,2014.53 1256.27,2014.53 1258.07,2014.53 1259.86,2014.53 1261.65,2014.53 1263.45,2014.53 1265.24,2014.53 1267.03,2014.53 1268.83,2014.53 1270.62,2014.53 1272.41,2014.53 1274.2,2014.53 1276,2014.53 1277.79,2014.53 1279.58,2014.53 1281.38,2014.53 1283.17,2014.53 1284.96,2014.53 1286.76,2014.53 1288.55,2014.53 1290.34,2014.53 1292.13,2014.53 1293.93,2014.53 1295.72,2014.53 1297.51,2014.53 1299.31,2014.53 1301.1,2014.53 1302.89,2014.53 1304.68,2014.53 1306.48,2014.53 1308.27,2014.53 1310.06,2014.53 1311.86,2014.53 1313.65,2014.53 1315.44,2014.53 1317.24,2014.53 1319.03,2014.53 1320.82,2014.53 1322.62,2014.53 1324.41,2014.53 1326.2,2014.53 1327.99,2014.53 1329.79,2014.53 1330.68,2014.53 1331.13,2014.31 1331.58,2014.11 1332.03,2013.92 1332.48,2013.76 1332.92,2013.61 1333.37,2026.63 1333.82,2039.18 1334.27,2051.28 1334.72,2062.94 1335.17,2074.17 1335.61,2085 1336.06,2095.43 1336.51,2105.49 1336.96,2115.18 1337.41,2124.51 1337.86,2133.51 1338.3,2142.17 1338.75,2150.52 1339.2,2158.57 1339.65,2166.32 1340.1,2173.79 1340.55,2180.98 1340.99,2187.91 1341.44,2194.59 1341.89,2201.02 1342.34,2207.22 1342.79,2213.19 1343.23,2218.94 1343.68,2224.49 1344.13,2229.82 1344.58,2234.97 1345.03,2239.92 1345.48,2244.69 1345.92,2249.29 1346.37,2253.72 1346.82,2257.99 1347.27,2262.1 1347.72,2266.05 1348.17,2269.87 1348.61,2273.54 1349.06,2277.08 1349.51,2280.49 1349.96,2283.77 1350.41,2286.93 1350.85,2289.98 1351.3,2292.91 1351.75,2295.74 1352.2,2298.46 1352.65,2301.09 1353.1,2303.61 1353.54,2306.05 1353.99,2308.39 1354.44,2310.65 1354.89,2312.82 1355.34,2314.92 1355.79,2316.94 1356.23,2318.88 1356.68,2320.75 1357.13,2322.56 1357.58,2324.29 1358.03,2325.97 1358.47,2327.58 1358.92,2329.13 1359.37,2330.63 1359.82,2332.07 1360.27,2333.46 1360.72,2334.79 1361.16,2336.08 1361.61,2337.32 1362.06,2338.51 1362.51,2339.67 1362.96,2340.77 1363.41,2341.84 1363.85,2342.87 1364.3,2343.86 1364.75,2344.81 1365.2,2345.73 1365.65,2346.62 1366.1,2347.47 1366.54,2348.29 1366.99,2349.09 1367.44,2349.85 1367.89,2350.58 1368.34,2351.29 1368.78,2351.97 1369.23,2352.63 1369.68,2353.26 1370.13,2353.87 1370.58,2354.45 1371.03,2355.02 1371.47,2355.56 1371.92,2356.09 1372.37,2356.59 1372.82,2357.08 1373.27,2357.55 1373.72,2358 1374.16,2358.43 1374.61,2358.85 1375.06,2359.26 1375.51,2359.64 1375.96,2360.02 1376.4,2360.38 1376.85,2360.73 1377.3,2361.06 1377.75,2361.38 1378.2,2361.7 1378.65,2361.99 1379.09,2362.28 1379.54,2362.56 1379.99,2362.83 1380.44,2363.09 1380.89,2363.33 1381.34,2363.57 1381.78,2363.8 1382.23,2364.03 1382.68,2364.24 1383.13,2364.45 1383.58,2364.64 1384.03,2364.84 1384.47,2365.02 1393.44,2367.57 1402.4,2368.79 1411.37,2369.38 1420.33,2369.67 1429.3,2369.82 1438.26,2369.9 1447.23,2369.95 1456.19,2369.98 1465.16,2370.01 1474.12,2370.04 1483.09,2370.06 1492.05,2370.08 1501.02,2370.1 1509.98,2370.13 1518.95,2370.15 1527.91,2370.17 1536.88,2370.19 1545.84,2370.21 1554.81,2370.23 1563.77,2370.25 1572.74,2370.27 1581.7,2370.28 1590.67,2370.3 1599.63,2370.32 1608.6,2370.34 1617.56,2370.36 1626.53,2370.38 1635.49,2370.4 1644.46,2370.41 1653.42,2370.43 1662.39,2370.45 1671.35,2370.47 1680.32,2370.48 1689.28,2370.5 1698.25,2370.52 1707.21,2370.53 1716.18,2370.55 1725.14,2370.56 1734.11,2370.58 1743.07,2370.6 1752.04,2370.61 1761,2370.63 1769.97,2370.64 1778.93,2370.66 1787.9,2370.67 1796.86,2370.69 1805.83,2370.7 1814.79,2370.72 1823.76,2370.73 1832.72,2370.74 1841.69,2370.76 1850.65,2370.77 1859.62,2370.78 1868.58,2370.8" fill="none" stroke="#414487" stroke-width="4.4" stroke-linejoin="round" clip-path="url(#clipe)"/>
<polyline points="1170.21,2372 1223.55,2372 1224,2372 1224.45,2343.66 1224.9,2318.3 1225.34,2295.61 1225.79,2275.3 1226.24,2257.12 1226.69,2240.85 1227.14,2226.29 1227.59,2213.26 1228.03,2201.6 1228.48,2191.16 1228.93,2181.82 1229.38,2173.46 1229.83,2165.97 1230.28,2159.28 1230.72,2153.28 1231.17,2147.91 1231.62,2143.11 1232.07,2138.81 1232.52,2134.96 1232.96,2131.51 1233.41,2128.42 1233.86,2125.66 1234.31,2123.19 1234.76,2120.97 1235.21,2118.99 1235.65,2117.21 1236.1,2115.62 1236.55,2114.19 1237,2112.92 1237.45,2111.77 1237.9,2110.75 1238.34,2109.83 1238.79,2109.01 1239.24,2108.27 1239.69,2107.6 1240.14,2107.01 1240.59,2106.48 1241.03,2106 1241.48,2105.57 1241.93,2105.18 1243.72,2103.99 1245.52,2103.21 1247.31,2102.69 1249.1,2102.33 1250.89,2102.09 1252.69,2101.91 1254.48,2101.78 1256.27,2101.67 1258.07,2101.59 1259.86,2101.51 1261.65,2101.44 1263.45,2101.38 1265.24,2101.32 1267.03,2101.26 1268.83,2101.21 1270.62,2101.15 1272.41,2101.1 1274.2,2101.04 1276,2100.99 1277.79,2100.93 1279.58,2100.88 1281.38,2100.83 1283.17,2100.77 1284.96,2100.72 1286.76,2100.66 1288.55,2100.61 1290.34,2100.56 1292.13,2100.5 1293.93,2100.45 1295.72,2100.4 1297.51,2100.34 1299.31,2100.29 1301.1,2100.23 1302.89,2100.18 1304.68,2100.13 1306.48,2100.07 1308.27,2100.02 1310.06,2099.96 1311.86,2099.91 1313.65,2099.86 1315.44,2099.8 1317.24,2099.75 1319.03,2099.69 1320.82,2099.64 1322.62,2099.59 1324.41,2099.53 1326.2,2099.48 1327.99,2099.43 1329.79,2099.37 1330.68,2099.37 1331.13,2099.26 1331.58,2101.2 1332.03,2111.06 1332.48,2120.58 1332.92,2129.74 1333.37,2138.57 1333.82,2147.08 1334.27,2155.29 1334.72,2163.19 1335.17,2170.81 1335.61,2178.14 1336.06,2185.21 1336.51,2192.02 1336.96,2198.59 1337.41,2204.91 1337.86,2211 1338.3,2216.87 1338.75,2222.53 1339.2,2227.98 1339.65,2233.23 1340.1,2238.28 1340.55,2243.15 1340.99,2247.85 1341.44,2252.37 1341.89,2256.72 1342.34,2260.92 1342.79,2264.96 1343.23,2268.85 1343.68,2272.6 1344.13,2276.22 1344.58,2279.7 1345.03,2283.05 1345.48,2286.28 1345.92,2289.39 1346.37,2292.39 1346.82,2295.27 1347.27,2298.05 1347.72,2300.73 1348.17,2303.31 1348.61,2305.8 1349.06,2308.19 1349.51,2310.5 1349.96,2312.72 1350.41,2314.86 1350.85,2316.92 1351.3,2318.9 1351.75,2320.82 1352.2,2322.66 1352.65,2324.43 1353.1,2326.14 1353.54,2327.79 1353.99,2329.37 1354.44,2330.9 1354.89,2332.37 1355.34,2333.79 1355.79,2335.15 1356.23,2336.47 1356.68,2337.73 1357.13,2338.95 1357.58,2340.13 1358.03,2341.26 1358.47,2342.35 1358.92,2343.4 1359.37,2344.41 1359.82,2345.39 1360.27,2346.33 1360.72,2347.23 1361.16,2348.1 1361.61,2348.94 1362.06,2349.75 1362.51,2350.53 1362.96,2351.27 1363.41,2352 1363.85,2352.69 1364.3,2353.36 1364.75,2354.01 1365.2,2354.63 1365.65,2355.23 1366.1,2355.8 1366.54,2356.36 1366.99,2356.89 1367.44,2357.41 1367.89,2357.91 1368.34,2358.38 1368.78,2358.85 1369.23,2359.29 1369.68,2359.72 1370.13,2360.13 1370.58,2360.52 1371.03,2360.91 1371.47,2361.27 1371.92,2361.63 1372.37,2361.97 1372.82,2362.3 1373.27,2362.62 1373.72,2362.92 1374.16,2363.21 1374.61,2363.5 1375.06,2363.77 1375.51,2364.03 1375.96,2364.29 1376.4,2364.53 1376.85,2364.77 1377.3,2364.99 1377.75,2365.21 1378.2,2365.42 1378.65,2365.62 1379.09,2365.82 1379.54,2366 1379.99,2366.18 1380.44,2366.36 1380.89,2366.53 1381.34,2366.69 1381.78,2366.84 1382.23,2366.99 1382.68,2367.14 1383.13,2367.28 1383.58,2367.41 1384.03,2367.54 1384.47,2367.66 1393.44,2369.39 1402.4,2370.21 1411.37,2370.6 1420.33,2370.79 1429.3,2370.89 1438.26,2370.94 1447.23,2370.97 1456.19,2370.99 1465.16,2371.01 1474.12,2371.02 1483.09,2371.03 1492.05,2371.04 1501.02,2371.05 1509.98,2371.06 1518.95,2371.07 1527.91,2371.08 1536.88,2371.09 1545.84,2371.1 1554.81,2371.11 1563.77,2371.12 1572.74,2371.13 1581.7,2371.14 1590.67,2371.15 1599.63,2371.16 1608.6,2371.17 1617.56,2371.18 1626.53,2371.19 1635.49,2371.2 1644.46,2371.21 1653.42,2371.22 1662.39,2371.22 1671.35,2371.23 1680.32,2371.24 1689.28,2371.25 1698.25,2371.26 1707.21,2371.27 1716.18,2371.27 1725.14,2371.28 1734.11,2371.29 1743.07,2371.3 1752.04,2371.31 1761,2371.31 1769.97,2371.32 1778.93,2371.33 1787.9,2371.34 1796.86,2371.34 1805.83,2371.35 1814.79,2371.36 1823.76,2371.36 1832.72,2371.37 1841.69,2371.38 1850.65,2371.39 1859.62,2371.39 1868.58,2371.4" fill="none" stroke="#440154" stroke-width="4.4" stroke-linejoin="round" clip-path="url(#clipe)"/>
<polyline points="1170.21,2372 1223.55,2372 1224,2372 1224.45,2326.55 1224.9,2287.68 1225.34,2254.42 1225.79,2225.97 1226.24,2201.63 1226.69,2180.81 1227.14,2163 1227.59,2147.76 1228.03,2134.72 1228.48,2123.57 1228.93,2114.02 1229.38,2105.86 1229.83,2098.87 1230.28,2092.89 1230.72,2087.77 1231.17,2083.4 1231.62,2079.65 1232.07,2076.44 1232.52,2073.69 1232.96,2071.34 1233.41,2069.33 1233.86,2067.6 1234.31,2066.12 1234.76,2064.86 1235.21,2063.77 1235.65,2062.84 1236.1,2062.04 1236.55,2061.36 1237,2060.77 1237.45,2060.26 1237.9,2059.83 1238.34,2059.46 1238.79,2059.13 1239.24,2058.86 1239.69,2058.61 1240.14,2058.41 1240.59,2058.23 1241.03,2058.07 1241.48,2057.94 1241.93,2057.82 1243.72,2057.47 1245.52,2057.26 1247.31,2057.11 1249.1,2057.01 1250.89,2056.92 1252.69,2056.85 1254.48,2056.78 1256.27,2056.71 1258.07,2056.65 1259.86,2056.58 1261.65,2056.52 1263.45,2056.46 1265.24,2056.39 1267.03,2056.33 1268.83,2056.27 1270.62,2056.2 1272.41,2056.14 1274.2,2056.08 1276,2056.02 1277.79,2055.95 1279.58,2055.89 1281.38,2055.83 1283.17,2055.76 1284.96,2055.7 1286.76,2055.64 1288.55,2055.58 1290.34,2055.51 1292.13,2055.45 1293.93,2055.39 1295.72,2055.32 1297.51,2055.26 1299.31,2055.2 1301.1,2055.14 1302.89,2055.07 1304.68,2055.01 1306.48,2054.95 1308.27,2054.88 1310.06,2054.82 1311.86,2054.76 1313.65,2054.7 1315.44,2054.63 1317.24,2054.57 1319.03,2054.51 1320.82,2054.44 1322.62,2054.38 1324.41,2054.32 1326.2,2054.26 1327.99,2054.19 1329.79,2054.13 1330.68,2054.13 1331.13,2053.77 1331.58,2053.45 1332.03,2053.16 1332.48,2052.9 1332.92,2062.06 1333.37,2073.19 1333.82,2083.94 1334.27,2094.29 1334.72,2104.28 1335.17,2113.91 1335.61,2123.19 1336.06,2132.14 1336.51,2140.77 1336.96,2149.09 1337.41,2157.1 1337.86,2164.83 1338.3,2172.28 1338.75,2179.45 1339.2,2186.37 1339.65,2193.03 1340.1,2199.46 1340.55,2205.65 1340.99,2211.61 1341.44,2217.36 1341.89,2222.9 1342.34,2228.23 1342.79,2233.37 1343.23,2238.33 1343.68,2243.1 1344.13,2247.7 1344.58,2252.13 1345.03,2256.4 1345.48,2260.51 1345.92,2264.47 1346.37,2268.29 1346.82,2271.97 1347.27,2275.51 1347.72,2278.92 1348.17,2282.21 1348.61,2285.38 1349.06,2288.43 1349.51,2291.37 1349.96,2294.2 1350.41,2296.93 1350.85,2299.56 1351.3,2302.09 1351.75,2304.53 1352.2,2306.88 1352.65,2309.14 1353.1,2311.32 1353.54,2313.42 1353.99,2315.44 1354.44,2317.39 1354.89,2319.27 1355.34,2321.08 1355.79,2322.82 1356.23,2324.5 1356.68,2326.11 1357.13,2327.67 1357.58,2329.17 1358.03,2330.61 1358.47,2332 1358.92,2333.34 1359.37,2334.64 1359.82,2335.88 1360.27,2337.08 1360.72,2338.23 1361.16,2339.34 1361.61,2340.41 1362.06,2341.45 1362.51,2342.44 1362.96,2343.4 1363.41,2344.32 1363.85,2345.21 1364.3,2346.06 1364.75,2346.89 1365.2,2347.68 1365.65,2348.45 1366.1,2349.18 1366.54,2349.89 1366.99,2350.58 1367.44,2351.24 1367.89,2351.87 1368.34,2352.48 1368.78,2353.07 1369.23,2353.64 1369.68,2354.18 1370.13,2354.71 1370.58,2355.22 1371.03,2355.71 1371.47,2356.18 1371.92,2356.63 1372.37,2357.07 1372.82,2357.49 1373.27,2357.89 1373.72,2358.28 1374.16,2358.66 1374.61,2359.02 1375.06,2359.37 1375.51,2359.71 1375.96,2360.03 1376.4,2360.34 1376.85,2360.64 1377.3,2360.93 1377.75,2361.21 1378.2,2361.48 1378.65,2361.74 1379.09,2361.99 1379.54,2362.23 1379.99,2362.46 1380.44,2362.69 1380.89,2362.9 1381.34,2363.11 1381.78,2363.31 1382.23,2363.5 1382.68,2363.69 1383.13,2363.86 1383.58,2364.04 1384.03,2364.2 1384.47,2364.36 1393.44,2366.58 1402.4,2367.65 1411.37,2368.18 1420.33,2368.44 1429.3,2368.59 1438.26,2368.68 1447.23,2368.74 1456.19,2368.78 1465.16,2368.82 1474.12,2368.86 1483.09,2368.9 1492.05,2368.93 1501.02,2368.97 1509.98,2369 1518.95,2369.03 1527.91,2369.07 1536.88,2369.1 1545.84,2369.13 1554.81,2369.16 1563.77,2369.19 1572.74,2369.23 1581.7,2369.26 1590.67,2369.29 1599.63,2369.32 1608.6,2369.35 1617.56,2369.38 1626.53,2369.4 1635.49,2369.43 1644.46,2369.46 1653.42,2369.49 1662.39,2369.52 1671.35,2369.54 1680.32,2369.57 1689.28,2369.6 1698.25,2369.62 1707.21,2369.65 1716.18,2369.68 1725.14,2369.7 1734.11,2369.73 1743.07,2369.75 1752.04,2369.78 1761,2369.8 1769.97,2369.83 1778.93,2369.85 1787.9,2369.87 1796.86,2369.9 1805.83,2369.92 1814.79,2369.94 1823.76,2369.97 1832.72,2369.99 1841.69,2370.01 1850.65,2370.03 1859.62,2370.06 1868.58,2370.08" fill="none" stroke="#FDE725" stroke-width="4.4" stroke-linejoin="round" clip-path="url(#clipe)"/>
<polyline points="1170.21,2372 1223.55,2372 1224,2372 1224.45,2343.66 1224.9,2318.3 1225.34,2295.61 1225.79,2275.3 1226.24,2257.12 1226.69,2240.85 1227.14,2226.29 1227.59,2213.26 1228.03,2201.6 1228.48,2191.16 1228.93,2181.82 1229.38,2173.46 1229.83,2165.97 1230.28,2159.28 1230.72,2153.28 1231.17,2147.91 1231.62,2143.11 1232.07,2138.81 1232.52,2134.96 1232.96,2131.51 1233.41,2128.42 1233.86,2125.66 1234.31,2123.19 1234.76,2120.97 1235.21,2118.99 1235.65,2117.21 1236.1,2115.62 1236.55,2114.19 1237,2112.92 1237.45,2111.77 1237.9,2110.75 1238.34,2109.83 1238.79,2109.01 1239.24,2108.27 1239.69,2107.6 1240.14,2107.01 1240.59,2106.48 1241.03,2106 1241.48,2105.57 1241.93,2105.18 1243.72,2103.99 1245.52,2103.21 1247.31,2102.69 1249.1,2102.33 1250.89,2102.09 1252.69,2101.91 1254.48,2101.78 1256.27,2101.67 1258.07,2101.59 1259.86,2101.51 1261.65,2101.44 1263.45,2101.38 1265.24,2101.32 1267.03,2101.26 1268.83,2101.21 1270.62,2101.15 1272.41,2101.1 1274.2,2101.04 1276,2100.99 1277.79,2100.93 1279.58,2100.88 1281.38,2100.83 1283.17,2100.77 1284.96,2100.72 1286.76,2100.66 1288.55,2100.61 1290.34,2100.56 1292.13,2100.5 1293.93,2100.45 1295.72,2100.4 1297.51,2100.34 1299.31,2100.29 1301.1,2100.23 1302.89,2100.18 1304.68,2100.13 1306.48,2100.07 1308.27,2100.02 1310.06,2099.96 1311.86,2099.91 1313.65,2099.86 1315.44,2099.8 1317.24,2099.75 1319.03,2099.69 1320.82,2099.64 1322.62,2099.59 1324.41,2099.53 1326.2,2099.48 1327.99,2099.43 1329.79,2099.37 1330.68,2099.37 1331.13,2099.04 1331.58,2098.74 1332.03,2098.46 1332.48,2104.28 1332.92,2113.87 1333.37,2123.12 1333.82,2132.04 1334.27,2140.64 1334.72,2148.94 1335.17,2156.94 1335.61,2164.65 1336.06,2172.09 1336.51,2179.26 1336.96,2186.17 1337.41,2192.83 1337.86,2199.25 1338.3,2205.44 1338.75,2211.41 1339.2,2217.16 1339.65,2222.7 1340.1,2228.05 1340.55,2233.19 1340.99,2238.15 1341.44,2242.93 1341.89,2247.54 1342.34,2251.98 1342.79,2256.26 1343.23,2260.38 1343.68,2264.35 1344.13,2268.17 1344.58,2271.86 1345.03,2275.41 1345.48,2278.83 1345.92,2282.13 1346.37,2285.3 1346.82,2288.36 1347.27,2291.31 1347.72,2294.15 1348.17,2296.89 1348.61,2299.52 1349.06,2302.06 1349.51,2304.51 1349.96,2306.87 1350.41,2309.14 1350.85,2311.32 1351.3,2313.43 1351.75,2315.46 1352.2,2317.42 1352.65,2319.3 1353.1,2321.11 1353.54,2322.86 1353.99,2324.54 1354.44,2326.17 1354.89,2327.73 1355.34,2329.23 1355.79,2330.68 1356.23,2332.08 1356.68,2333.43 1357.13,2334.72 1357.58,2335.97 1358.03,2337.17 1358.47,2338.33 1358.92,2339.45 1359.37,2340.52 1359.82,2341.56 1360.27,2342.55 1360.72,2343.51 1361.16,2344.44 1361.61,2345.33 1362.06,2346.19 1362.51,2347.02 1362.96,2347.82 1363.41,2348.58 1363.85,2349.32 1364.3,2350.03 1364.75,2350.72 1365.2,2351.38 1365.65,2352.02 1366.1,2352.63 1366.54,2353.22 1366.99,2353.79 1367.44,2354.34 1367.89,2354.87 1368.34,2355.38 1368.78,2355.87 1369.23,2356.34 1369.68,2356.8 1370.13,2357.23 1370.58,2357.66 1371.03,2358.06 1371.47,2358.45 1371.92,2358.83 1372.37,2359.2 1372.82,2359.55 1373.27,2359.88 1373.72,2360.21 1374.16,2360.52 1374.61,2360.82 1375.06,2361.11 1375.51,2361.39 1375.96,2361.66 1376.4,2361.92 1376.85,2362.18 1377.3,2362.42 1377.75,2362.65 1378.2,2362.87 1378.65,2363.09 1379.09,2363.3 1379.54,2363.5 1379.99,2363.69 1380.44,2363.88 1380.89,2364.06 1381.34,2364.23 1381.78,2364.4 1382.23,2364.56 1382.68,2364.71 1383.13,2364.86 1383.58,2365 1384.03,2365.14 1384.47,2365.27 1393.44,2367.13 1402.4,2368.02 1411.37,2368.46 1420.33,2368.69 1429.3,2368.81 1438.26,2368.89 1447.23,2368.94 1456.19,2368.99 1465.16,2369.02 1474.12,2369.06 1483.09,2369.09 1492.05,2369.12 1501.02,2369.16 1509.98,2369.19 1518.95,2369.22 1527.91,2369.25 1536.88,2369.28 1545.84,2369.31 1554.81,2369.34 1563.77,2369.37 1572.74,2369.4 1581.7,2369.43 1590.67,2369.46 1599.63,2369.48 1608.6,2369.51 1617.56,2369.54 1626.53,2369.57 1635.49,2369.59 1644.46,2369.62 1653.42,2369.65 1662.39,2369.67 1671.35,2369.7 1680.32,2369.72 1689.28,2369.75 1698.25,2369.77 1707.21,2369.8 1716.18,2369.82 1725.14,2369.85 1734.11,2369.87 1743.07,2369.89 1752.04,2369.92 1761,2369.94 1769.97,2369.96 1778.93,2369.99 1787.9,2370.01 1796.86,2370.03 1805.83,2370.05 1814.79,2370.07 1823.76,2370.09 1832.72,2370.12 1841.69,2370.14 1850.65,2370.16 1859.62,2370.18 1868.58,2370.2" fill="none" stroke="#7AD151" stroke-width="4.4" stroke-linejoin="round" clip-path="url(#clipe)"/>
<polyline points="1170.21,2372 1223.55,2372 1224,2372 1224.45,2355.19 1224.9,2339.72 1225.34,2325.49 1225.79,2312.4 1226.24,2300.35 1226.69,2289.26 1227.14,2279.06 1227.59,2269.67 1228.03,2261.03 1228.48,2253.08 1228.93,2245.77 1229.38,2239.03 1229.83,2232.84 1230.28,2227.14 1230.72,2221.9 1231.17,2217.07 1231.62,2212.63 1232.07,2208.54 1232.52,2204.78 1232.96,2201.31 1233.41,2198.13 1233.86,2195.19 1234.31,2192.49 1234.76,2190.01 1235.21,2187.72 1235.65,2185.62 1236.1,2183.68 1236.55,2181.9 1237,2180.26 1237.45,2178.74 1237.9,2177.35 1238.34,2176.07 1238.79,2174.89 1239.24,2173.81 1239.69,2172.81 1240.14,2171.88 1240.59,2171.04 1241.03,2170.26 1241.48,2169.54 1241.93,2168.87 1243.72,2166.7 1245.52,2165.13 1247.31,2164 1249.1,2163.17 1250.89,2162.57 1252.69,2162.12 1254.48,2161.79 1256.27,2161.54 1258.07,2161.35 1259.86,2161.21 1261.65,2161.09 1263.45,2160.99 1265.24,2160.91 1267.03,2160.84 1268.83,2160.78 1270.62,2160.72 1272.41,2160.67 1274.2,2160.62 1276,2160.57 1277.79,2160.53 1279.58,2160.48 1281.38,2160.44 1283.17,2160.39 1284.96,2160.35 1286.76,2160.31 1288.55,2160.27 1290.34,2160.22 1292.13,2160.18 1293.93,2160.14 1295.72,2160.1 1297.51,2160.05 1299.31,2160.01 1301.1,2159.97 1302.89,2159.93 1304.68,2159.89 1306.48,2159.84 1308.27,2159.8 1310.06,2159.76 1311.86,2159.72 1313.65,2159.68 1315.44,2159.63 1317.24,2159.59 1319.03,2159.55 1320.82,2159.51 1322.62,2159.47 1324.41,2159.42 1326.2,2159.38 1327.99,2159.34 1329.79,2159.3 1330.68,2159.3 1331.13,2159.03 1331.58,2158.79 1332.03,2161.74 1332.48,2169.25 1332.92,2176.5 1333.37,2183.5 1333.82,2190.24 1334.27,2196.75 1334.72,2203.02 1335.17,2209.07 1335.61,2214.91 1336.06,2220.54 1336.51,2225.96 1336.96,2231.19 1337.41,2236.23 1337.86,2241.09 1338.3,2245.77 1338.75,2250.29 1339.2,2254.64 1339.65,2258.83 1340.1,2262.88 1340.55,2266.77 1340.99,2270.53 1341.44,2274.14 1341.89,2277.63 1342.34,2280.99 1342.79,2284.23 1343.23,2287.35 1343.68,2290.35 1344.13,2293.25 1344.58,2296.04 1345.03,2298.73 1345.48,2301.32 1345.92,2303.81 1346.37,2306.22 1346.82,2308.53 1347.27,2310.77 1347.72,2312.92 1348.17,2314.99 1348.61,2316.98 1349.06,2318.9 1349.51,2320.76 1349.96,2322.54 1350.41,2324.26 1350.85,2325.92 1351.3,2327.51 1351.75,2329.05 1352.2,2330.53 1352.65,2331.95 1353.1,2333.33 1353.54,2334.65 1353.99,2335.92 1354.44,2337.15 1354.89,2338.34 1355.34,2339.47 1355.79,2340.57 1356.23,2341.63 1356.68,2342.65 1357.13,2343.63 1357.58,2344.58 1358.03,2345.49 1358.47,2346.36 1358.92,2347.21 1359.37,2348.02 1359.82,2348.81 1360.27,2349.56 1360.72,2350.29 1361.16,2350.99 1361.61,2351.66 1362.06,2352.31 1362.51,2352.94 1362.96,2353.54 1363.41,2354.13 1363.85,2354.69 1364.3,2355.22 1364.75,2355.74 1365.2,2356.25 1365.65,2356.73 1366.1,2357.19 1366.54,2357.64 1366.99,2358.07 1367.44,2358.49 1367.89,2358.89 1368.34,2359.27 1368.78,2359.64 1369.23,2360 1369.68,2360.34 1370.13,2360.68 1370.58,2361 1371.03,2361.3 1371.47,2361.6 1371.92,2361.89 1372.37,2362.16 1372.82,2362.43 1373.27,2362.68 1373.72,2362.93 1374.16,2363.17 1374.61,2363.4 1375.06,2363.62 1375.51,2363.83 1375.96,2364.03 1376.4,2364.23 1376.85,2364.42 1377.3,2364.6 1377.75,2364.78 1378.2,2364.95 1378.65,2365.11 1379.09,2365.27 1379.54,2365.42 1379.99,2365.57 1380.44,2365.71 1380.89,2365.84 1381.34,2365.97 1381.78,2366.1 1382.23,2366.22 1382.68,2366.34 1383.13,2366.45 1383.58,2366.56 1384.03,2366.67 1384.47,2366.77 1393.44,2368.17 1402.4,2368.85 1411.37,2369.18 1420.33,2369.36 1429.3,2369.45 1438.26,2369.51 1447.23,2369.55 1456.19,2369.59 1465.16,2369.62 1474.12,2369.65 1483.09,2369.67 1492.05,2369.7 1501.02,2369.73 1509.98,2369.75 1518.95,2369.78 1527.91,2369.8 1536.88,2369.82 1545.84,2369.85 1554.81,2369.87 1563.77,2369.9 1572.74,2369.92 1581.7,2369.94 1590.67,2369.96 1599.63,2369.99 1608.6,2370.01 1617.56,2370.03 1626.53,2370.05 1635.49,2370.07 1644.46,2370.1 1653.42,2370.12 1662.39,2370.14 1671.35,2370.16 1680.32,2370.18 1689.28,2370.2 1698.25,2370.22 1707.21,2370.24 1716.18,2370.26 1725.14,2370.28 1734.11,2370.3 1743.07,2370.31 1752.04,2370.33 1761,2370.35 1769.97,2370.37 1778.93,2370.39 1787.9,2370.41 1796.86,2370.42 1805.83,2370.44 1814.79,2370.46 1823.76,2370.48 1832.72,2370.49 1841.69,2370.51 1850.65,2370.53 1859.62,2370.54 1868.58,2370.56" fill="none" stroke="#22A884" stroke-width="4.4" stroke-linejoin="round" clip-path="url(#clipe)"/>
<polyline points="1170.21,2372 1223.55,2372 1224,2372 1224.45,2363.19 1224.9,2354.92 1225.34,2347.14 1225.79,2339.84 1226.24,2332.97 1226.69,2326.53 1227.14,2320.47 1227.59,2314.78 1228.03,2309.43 1228.48,2304.4 1228.93,2299.68 1229.38,2295.25 1229.83,2291.08 1230.28,2287.17 1230.72,2283.49 1231.17,2280.03 1231.62,2276.78 1232.07,2273.73 1232.52,2270.87 1232.96,2268.17 1233.41,2265.64 1233.86,2263.26 1234.31,2261.03 1234.76,2258.93 1235.21,2256.95 1235.65,2255.1 1236.1,2253.36 1236.55,2251.72 1237,2250.18 1237.45,2248.73 1237.9,2247.37 1238.34,2246.1 1238.79,2244.9 1239.24,2243.77 1239.69,2242.71 1240.14,2241.71 1240.59,2240.78 1241.03,2239.9 1241.48,2239.07 1241.93,2238.29 1243.72,2235.62 1245.52,2233.53 1247.31,2231.9 1249.1,2230.62 1250.89,2229.62 1252.69,2228.83 1254.48,2228.21 1256.27,2227.72 1258.07,2227.33 1259.86,2227.03 1261.65,2226.78 1263.45,2226.58 1265.24,2226.42 1267.03,2226.29 1268.83,2226.18 1270.62,2226.09 1272.41,2226.01 1274.2,2225.94 1276,2225.88 1277.79,2225.83 1279.58,2225.79 1281.38,2225.74 1283.17,2225.7 1284.96,2225.67 1286.76,2225.63 1288.55,2225.6 1290.34,2225.56 1292.13,2225.53 1293.93,2225.5 1295.72,2225.47 1297.51,2225.44 1299.31,2225.41 1301.1,2225.38 1302.89,2225.35 1304.68,2225.32 1306.48,2225.29 1308.27,2225.26 1310.06,2225.23 1311.86,2225.2 1313.65,2225.17 1315.44,2225.14 1317.24,2225.11 1319.03,2225.08 1320.82,2225.05 1322.62,2225.02 1324.41,2225 1326.2,2224.97 1327.99,2224.94 1329.79,2224.91 1330.68,2224.91 1331.13,2224.73 1331.58,2224.57 1332.03,2229.84 1332.48,2234.92 1332.92,2239.82 1333.37,2244.56 1333.82,2249.12 1334.27,2253.52 1334.72,2257.76 1335.17,2261.85 1335.61,2265.8 1336.06,2269.61 1336.51,2273.27 1336.96,2276.81 1337.41,2280.22 1337.86,2283.51 1338.3,2286.67 1338.75,2289.73 1339.2,2292.67 1339.65,2295.51 1340.1,2298.24 1340.55,2300.87 1340.99,2303.41 1341.44,2305.86 1341.89,2308.22 1342.34,2310.49 1342.79,2312.68 1343.23,2314.79 1343.68,2316.82 1344.13,2318.78 1344.58,2320.66 1345.03,2322.48 1345.48,2324.23 1345.92,2325.92 1346.37,2327.55 1346.82,2329.11 1347.27,2330.62 1347.72,2332.08 1348.17,2333.48 1348.61,2334.83 1349.06,2336.13 1349.51,2337.38 1349.96,2338.58 1350.41,2339.75 1350.85,2340.87 1351.3,2341.94 1351.75,2342.98 1352.2,2343.98 1352.65,2344.95 1353.1,2345.88 1353.54,2346.77 1353.99,2347.63 1354.44,2348.46 1354.89,2349.26 1355.34,2350.03 1355.79,2350.78 1356.23,2351.49 1356.68,2352.18 1357.13,2352.84 1357.58,2353.48 1358.03,2354.1 1358.47,2354.69 1358.92,2355.26 1359.37,2355.81 1359.82,2356.34 1360.27,2356.85 1360.72,2357.35 1361.16,2357.82 1361.61,2358.28 1362.06,2358.72 1362.51,2359.14 1362.96,2359.55 1363.41,2359.94 1363.85,2360.32 1364.3,2360.68 1364.75,2361.03 1365.2,2361.37 1365.65,2361.7 1366.1,2362.01 1366.54,2362.32 1366.99,2362.61 1367.44,2362.89 1367.89,2363.16 1368.34,2363.42 1368.78,2363.67 1369.23,2363.91 1369.68,2364.14 1370.13,2364.37 1370.58,2364.59 1371.03,2364.79 1371.47,2364.99 1371.92,2365.19 1372.37,2365.37 1372.82,2365.55 1373.27,2365.73 1373.72,2365.89 1374.16,2366.05 1374.61,2366.21 1375.06,2366.36 1375.51,2366.5 1375.96,2366.64 1376.4,2366.77 1376.85,2366.9 1377.3,2367.02 1377.75,2367.14 1378.2,2367.26 1378.65,2367.37 1379.09,2367.47 1379.54,2367.58 1379.99,2367.68 1380.44,2367.77 1380.89,2367.86 1381.34,2367.95 1381.78,2368.04 1382.23,2368.12 1382.68,2368.2 1383.13,2368.27 1383.58,2368.35 1384.03,2368.42 1384.47,2368.49 1393.44,2369.44 1402.4,2369.89 1411.37,2370.12 1420.33,2370.24 1429.3,2370.3 1438.26,2370.34 1447.23,2370.37 1456.19,2370.39 1465.16,2370.41 1474.12,2370.43 1483.09,2370.45 1492.05,2370.47 1501.02,2370.48 1509.98,2370.5 1518.95,2370.52 1527.91,2370.53 1536.88,2370.55 1545.84,2370.57 1554.81,2370.58 1563.77,2370.6 1572.74,2370.61 1581.7,2370.63 1590.67,2370.64 1599.63,2370.66 1608.6,2370.67 1617.56,2370.69 1626.53,2370.7 1635.49,2370.72 1644.46,2370.73 1653.42,2370.74 1662.39,2370.76 1671.35,2370.77 1680.32,2370.79 1689.28,2370.8 1698.25,2370.81 1707.21,2370.83 1716.18,2370.84 1725.14,2370.85 1734.11,2370.86 1743.07,2370.88 1752.04,2370.89 1761,2370.9 1769.97,2370.91 1778.93,2370.93 1787.9,2370.94 1796.86,2370.95 1805.83,2370.96 1814.79,2370.97 1823.76,2370.98 1832.72,2370.99 1841.69,2371.01 1850.65,2371.02 1859.62,2371.03 1868.58,2371.04" fill="none" stroke="#2A788E" stroke-width="4.4" stroke-linejoin="round" clip-path="url(#clipe)"/>
<polyline points="1170.21,2372 1223.55,2372 1224,2372 1224.45,2368.03 1224.9,2364.23 1225.34,2360.6 1225.79,2357.13 1226.24,2353.82 1226.69,2350.65 1227.14,2347.62 1227.59,2344.73 1228.03,2341.96 1228.48,2339.32 1228.93,2336.79 1229.38,2334.38 1229.83,2332.07 1230.28,2329.87 1230.72,2327.76 1231.17,2325.75 1231.62,2323.83 1232.07,2321.99 1232.52,2320.23 1232.96,2318.55 1233.41,2316.94 1233.86,2315.41 1234.31,2313.94 1234.76,2312.54 1235.21,2311.2 1235.65,2309.92 1236.1,2308.7 1236.55,2307.53 1237,2306.41 1237.45,2305.34 1237.9,2304.32 1238.34,2303.35 1238.79,2302.41 1239.24,2301.52 1239.69,2300.67 1240.14,2299.85 1240.59,2299.08 1241.03,2298.33 1241.48,2297.62 1241.93,2296.94 1243.72,2294.51 1245.52,2292.47 1247.31,2290.78 1249.1,2289.36 1250.89,2288.17 1252.69,2287.18 1254.48,2286.35 1256.27,2285.65 1258.07,2285.07 1259.86,2284.58 1261.65,2284.17 1263.45,2283.83 1265.24,2283.53 1267.03,2283.29 1268.83,2283.08 1270.62,2282.9 1272.41,2282.75 1274.2,2282.63 1276,2282.52 1277.79,2282.42 1279.58,2282.34 1281.38,2282.27 1283.17,2282.21 1284.96,2282.15 1286.76,2282.1 1288.55,2282.06 1290.34,2282.02 1292.13,2281.98 1293.93,2281.95 1295.72,2281.92 1297.51,2281.89 1299.31,2281.87 1301.1,2281.84 1302.89,2281.82 1304.68,2281.79 1306.48,2281.77 1308.27,2281.75 1310.06,2281.73 1311.86,2281.71 1313.65,2281.69 1315.44,2281.67 1317.24,2281.65 1319.03,2281.63 1320.82,2281.61 1322.62,2281.59 1324.41,2281.58 1326.2,2281.56 1327.99,2281.54 1329.79,2281.52 1330.68,2281.52 1331.13,2281.45 1331.58,2282.74 1332.03,2285.97 1332.48,2289.08 1332.92,2292.08 1333.37,2294.97 1333.82,2297.75 1334.27,2300.44 1334.72,2303.03 1335.17,2305.53 1335.61,2307.93 1336.06,2310.25 1336.51,2312.49 1336.96,2314.64 1337.41,2316.72 1337.86,2318.72 1338.3,2320.65 1338.75,2322.5 1339.2,2324.29 1339.65,2326.02 1340.1,2327.68 1340.55,2329.28 1340.99,2330.82 1341.44,2332.31 1341.89,2333.74 1342.34,2335.12 1342.79,2336.45 1343.23,2337.73 1343.68,2338.96 1344.13,2340.15 1344.58,2341.3 1345.03,2342.4 1345.48,2343.46 1345.92,2344.49 1346.37,2345.47 1346.82,2346.42 1347.27,2347.34 1347.72,2348.22 1348.17,2349.07 1348.61,2349.89 1349.06,2350.68 1349.51,2351.44 1349.96,2352.17 1350.41,2352.87 1350.85,2353.55 1351.3,2354.2 1351.75,2354.83 1352.2,2355.44 1352.65,2356.03 1353.1,2356.59 1353.54,2357.13 1353.99,2357.65 1354.44,2358.16 1354.89,2358.64 1355.34,2359.11 1355.79,2359.56 1356.23,2359.99 1356.68,2360.41 1357.13,2360.81 1357.58,2361.2 1358.03,2361.57 1358.47,2361.93 1358.92,2362.27 1359.37,2362.61 1359.82,2362.93 1360.27,2363.24 1360.72,2363.54 1361.16,2363.82 1361.61,2364.1 1362.06,2364.37 1362.51,2364.62 1362.96,2364.87 1363.41,2365.11 1363.85,2365.34 1364.3,2365.56 1364.75,2365.77 1365.2,2365.97 1365.65,2366.17 1366.1,2366.36 1366.54,2366.55 1366.99,2366.72 1367.44,2366.89 1367.89,2367.06 1368.34,2367.21 1368.78,2367.36 1369.23,2367.51 1369.68,2367.65 1370.13,2367.79 1370.58,2367.92 1371.03,2368.04 1371.47,2368.17 1371.92,2368.28 1372.37,2368.4 1372.82,2368.5 1373.27,2368.61 1373.72,2368.71 1374.16,2368.81 1374.61,2368.9 1375.06,2368.99 1375.51,2369.08 1375.96,2369.16 1376.4,2369.24 1376.85,2369.32 1377.3,2369.39 1377.75,2369.46 1378.2,2369.53 1378.65,2369.6 1379.09,2369.66 1379.54,2369.73 1379.99,2369.79 1380.44,2369.84 1380.89,2369.9 1381.34,2369.95 1381.78,2370 1382.23,2370.05 1382.68,2370.1 1383.13,2370.15 1383.58,2370.19 1384.03,2370.23 1384.47,2370.28 1393.44,2370.85 1402.4,2371.12 1411.37,2371.25 1420.33,2371.32 1429.3,2371.35 1438.26,2371.37 1447.23,2371.39 1456.19,2371.4 1465.16,2371.4 1474.12,2371.41 1483.09,2371.42 1492.05,2371.42 1501.02,2371.43 1509.98,2371.44 1518.95,2371.44 1527.91,2371.45 1536.88,2371.46 1545.84,2371.46 1554.81,2371.47 1563.77,2371.47 1572.74,2371.48 1581.7,2371.49 1590.67,2371.49 1599.63,2371.5 1608.6,2371.5 1617.56,2371.51 1626.53,2371.51 1635.49,2371.52 1644.46,2371.52 1653.42,2371.53 1662.39,2371.53 1671.35,2371.54 1680.32,2371.54 1689.28,2371.55 1698.25,2371.55 1707.21,2371.56 1716.18,2371.56 1725.14,2371.57 1734.11,2371.57 1743.07,2371.58 1752.04,2371.58 1761,2371.59 1769.97,2371.59 1778.93,2371.6 1787.9,2371.6 1796.86,2371.61 1805.83,2371.61 1814.79,2371.61 1823.76,2371.62 1832.72,2371.62 1841.69,2371.63 1850.65,2371.63 1859.62,2371.64 1868.58,2371.64" fill="none" stroke="#414487" stroke-width="4.4" stroke-linejoin="round" clip-path="url(#clipe)"/>
<polyline points="1170.21,2372 1223.55,2372 1224,2372 1224.45,2370.14 1224.9,2368.34 1225.34,2366.61 1225.79,2364.94 1226.24,2363.33 1226.69,2361.78 1227.14,2360.29 1227.59,2358.85 1228.03,2357.46 1228.48,2356.12 1228.93,2354.83 1229.38,2353.59 1229.83,2352.4 1230.28,2351.24 1230.72,2350.13 1231.17,2349.06 1231.62,2348.03 1232.07,2347.03 1232.52,2346.07 1232.96,2345.15 1233.41,2344.26 1233.86,2343.4 1234.31,2342.57 1234.76,2341.77 1235.21,2341 1235.65,2340.26 1236.1,2339.55 1236.55,2338.86 1237,2338.2 1237.45,2337.56 1237.9,2336.94 1238.34,2336.35 1238.79,2335.77 1239.24,2335.22 1239.69,2334.69 1240.14,2334.18 1240.59,2333.68 1241.03,2333.21 1241.48,2332.75 1241.93,2332.31 1243.72,2330.69 1245.52,2329.29 1247.31,2328.09 1249.1,2327.05 1250.89,2326.15 1252.69,2325.37 1254.48,2324.7 1256.27,2324.12 1258.07,2323.62 1259.86,2323.19 1261.65,2322.81 1263.45,2322.48 1265.24,2322.2 1267.03,2321.96 1268.83,2321.74 1270.62,2321.56 1272.41,2321.4 1274.2,2321.26 1276,2321.14 1277.79,2321.03 1279.58,2320.94 1281.38,2320.85 1283.17,2320.78 1284.96,2320.72 1286.76,2320.66 1288.55,2320.61 1290.34,2320.57 1292.13,2320.53 1293.93,2320.49 1295.72,2320.46 1297.51,2320.43 1299.31,2320.4 1301.1,2320.38 1302.89,2320.36 1304.68,2320.34 1306.48,2320.32 1308.27,2320.3 1310.06,2320.28 1311.86,2320.27 1313.65,2320.25 1315.44,2320.24 1317.24,2320.22 1319.03,2320.21 1320.82,2320.2 1322.62,2320.18 1324.41,2320.17 1326.2,2320.16 1327.99,2320.15 1329.79,2320.14 1330.68,2320.14 1331.13,2320.14 1331.58,2322.04 1332.03,2323.88 1332.48,2325.65 1332.92,2327.36 1333.37,2329 1333.82,2330.59 1334.27,2332.11 1334.72,2333.58 1335.17,2334.99 1335.61,2336.35 1336.06,2337.67 1336.51,2338.93 1336.96,2340.15 1337.41,2341.32 1337.86,2342.45 1338.3,2343.54 1338.75,2344.58 1339.2,2345.59 1339.65,2346.56 1340.1,2347.5 1340.55,2348.4 1340.99,2349.27 1341.44,2350.11 1341.89,2350.91 1342.34,2351.69 1342.79,2352.44 1343.23,2353.16 1343.68,2353.85 1344.13,2354.52 1344.58,2355.16 1345.03,2355.78 1345.48,2356.38 1345.92,2356.95 1346.37,2357.51 1346.82,2358.04 1347.27,2358.55 1347.72,2359.05 1348.17,2359.53 1348.61,2359.99 1349.06,2360.43 1349.51,2360.85 1349.96,2361.26 1350.41,2361.66 1350.85,2362.04 1351.3,2362.41 1351.75,2362.76 1352.2,2363.1 1352.65,2363.43 1353.1,2363.74 1353.54,2364.05 1353.99,2364.34 1354.44,2364.62 1354.89,2364.89 1355.34,2365.15 1355.79,2365.41 1356.23,2365.65 1356.68,2365.88 1357.13,2366.11 1357.58,2366.32 1358.03,2366.53 1358.47,2366.73 1358.92,2366.93 1359.37,2367.12 1359.82,2367.29 1360.27,2367.47 1360.72,2367.63 1361.16,2367.8 1361.61,2367.95 1362.06,2368.1 1362.51,2368.24 1362.96,2368.38 1363.41,2368.51 1363.85,2368.64 1364.3,2368.77 1364.75,2368.89 1365.2,2369 1365.65,2369.11 1366.1,2369.22 1366.54,2369.32 1366.99,2369.42 1367.44,2369.51 1367.89,2369.6 1368.34,2369.69 1368.78,2369.78 1369.23,2369.86 1369.68,2369.94 1370.13,2370.01 1370.58,2370.09 1371.03,2370.16 1371.47,2370.23 1371.92,2370.29 1372.37,2370.35 1372.82,2370.41 1373.27,2370.47 1373.72,2370.53 1374.16,2370.58 1374.61,2370.64 1375.06,2370.69 1375.51,2370.73 1375.96,2370.78 1376.4,2370.83 1376.85,2370.87 1377.3,2370.91 1377.75,2370.95 1378.2,2370.99 1378.65,2371.03 1379.09,2371.06 1379.54,2371.1 1379.99,2371.13 1380.44,2371.16 1380.89,2371.19 1381.34,2371.22 1381.78,2371.25 1382.23,2371.28 1382.68,2371.31 1383.13,2371.33 1383.58,2371.36 1384.03,2371.38 1384.47,2371.4 1393.44,2371.72 1402.4,2371.87 1411.37,2371.94 1420.33,2371.97 1429.3,2371.99 1438.26,2371.99 1447.23,2372 1456.19,2372 1465.16,2372 1474.12,2372 1483.09,2372 1492.05,2372 1501.02,2372 1509.98,2372 1518.95,2372 1527.91,2372 1536.88,2372 1545.84,2372 1554.81,2372 1563.77,2372 1572.74,2372 1581.7,2372 1590.67,2372 1599.63,2372 1608.6,2372 1617.56,2372 1626.53,2372 1635.49,2372 1644.46,2372 1653.42,2372 1662.39,2372 1671.35,2372 1680.32,2372 1689.28,2372 1698.25,2372 1707.21,2372 1716.18,2372 1725.14,2372 1734.11,2372 1743.07,2372 1752.04,2372 1761,2372 1769.97,2372 1778.93,2372 1787.9,2372 1796.86,2372 1805.83,2372 1814.79,2372 1823.76,2372 1832.72,2372 1841.69,2372 1850.65,2372 1859.62,2372 1868.58,2372" fill="none" stroke="#440154" stroke-width="4.4" stroke-linejoin="round" clip-path="url(#clipe)"/>
</g>
</svg>
</body></html>
